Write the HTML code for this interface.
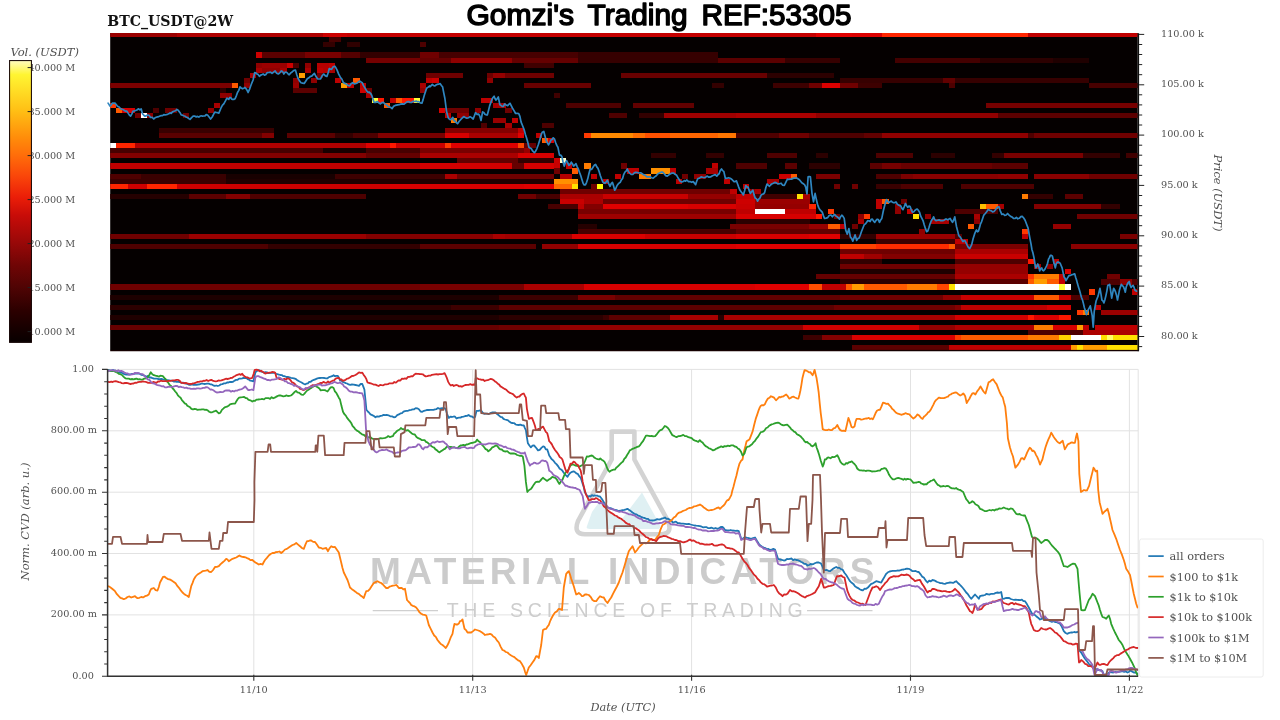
<!DOCTYPE html>
<html lang="en"><head><meta charset="utf-8"><title>Gomzi's Trading REF:53305</title>
<style>html,body{margin:0;padding:0;background:#fff;}body{width:1280px;height:720px;overflow:hidden;}svg{display:block;}text{font-family:'DejaVu Serif','Liberation Serif',serif;fill:#505050;}.ln{fill:none;stroke-width:1.8;stroke-linejoin:round;stroke-linecap:round;}</style></head><body>
<svg width="1280" height="720" viewBox="0 0 1280 720">
<defs>
<linearGradient id="cb" x1="0" y1="0" x2="0" y2="1"><stop offset="0" stop-color="#fffcc0"/><stop offset="0.05" stop-color="#fff532"/><stop offset="0.18" stop-color="#ffbe14"/><stop offset="0.275" stop-color="#ff8c0a"/><stop offset="0.335" stop-color="#ff6e0a"/><stop offset="0.41" stop-color="#fa460a"/><stop offset="0.485" stop-color="#eb1e08"/><stop offset="0.55" stop-color="#c80c08"/><stop offset="0.648" stop-color="#980808"/><stop offset="0.726" stop-color="#700505"/><stop offset="0.804" stop-color="#500404"/><stop offset="0.885" stop-color="#2d0000"/><stop offset="0.96" stop-color="#140000"/><stop offset="1" stop-color="#080000"/></linearGradient>
<clipPath id="hc"><rect x="110.2" y="33.1" width="1027.5" height="316.9"/></clipPath>
<clipPath id="lc"><rect x="107.6" y="367.4" width="1030.6" height="309.9"/></clipPath>
</defs>
<g id="title" style="font-family:'Liberation Sans','DejaVu Sans',sans-serif;font-weight:normal;font-size:30px;fill:#000;stroke:#000;stroke-width:1.5;stroke-linejoin:round;paint-order:stroke">
<text x="466.5" y="25.4" textLength="107.5" lengthAdjust="spacingAndGlyphs" style="font-family:'Liberation Sans','DejaVu Sans',sans-serif;font-weight:normal;font-size:30px;fill:#000;stroke:#000;stroke-width:1.5;stroke-linejoin:round;paint-order:stroke">Gomzi's</text>
<text x="587.6" y="25.4" textLength="100" lengthAdjust="spacingAndGlyphs" style="font-family:'Liberation Sans','DejaVu Sans',sans-serif;font-weight:normal;font-size:30px;fill:#000;stroke:#000;stroke-width:1.5;stroke-linejoin:round;paint-order:stroke">Trading</text>
<text x="701.5" y="25.4" textLength="150" lengthAdjust="spacingAndGlyphs" style="font-family:'Liberation Sans','DejaVu Sans',sans-serif;font-weight:normal;font-size:30px;fill:#000;stroke:#000;stroke-width:1.5;stroke-linejoin:round;paint-order:stroke">REF:53305</text>
</g>
<text id="sym" x="107.3" y="25.6" style="font-weight:bold;font-size:14.14px;fill:#111">BTC_USDT@2W</text>
<g id="heat" clip-path="url(#hc)" shape-rendering="crispEdges">
<rect x="110.2" y="33.1" width="1027.5" height="317.9" fill="#050000"/>
<rect x="110.25" y="32.30" width="66.93" height="5.09" fill="#9a0000"/>
<rect x="177.13" y="32.30" width="145.97" height="5.09" fill="#ad0000"/>
<rect x="323.05" y="32.30" width="24.37" height="5.09" fill="#cd0000"/>
<rect x="347.37" y="32.30" width="468.21" height="5.09" fill="#c40000"/>
<rect x="815.53" y="32.30" width="36.53" height="5.09" fill="#e00000"/>
<rect x="852.01" y="32.30" width="30.45" height="5.09" fill="#db0000"/>
<rect x="882.41" y="32.30" width="145.97" height="5.09" fill="#ff2500"/>
<rect x="1028.33" y="32.30" width="109.49" height="5.09" fill="#bf0000"/>
<rect x="329.13" y="37.34" width="12.21" height="5.09" fill="#470000"/>
<rect x="323.05" y="42.39" width="12.21" height="5.09" fill="#330000"/>
<rect x="347.37" y="42.39" width="12.21" height="5.09" fill="#2f0000"/>
<rect x="420.33" y="42.39" width="6.13" height="5.09" fill="#4e0000"/>
<rect x="256.17" y="52.47" width="6.13" height="5.09" fill="#cd0000"/>
<rect x="262.25" y="52.47" width="42.61" height="5.09" fill="#5b0000"/>
<rect x="304.81" y="52.47" width="36.53" height="5.09" fill="#790000"/>
<rect x="341.29" y="52.47" width="18.29" height="5.09" fill="#540000"/>
<rect x="359.53" y="52.47" width="60.85" height="5.09" fill="#330000"/>
<rect x="420.33" y="52.47" width="18.29" height="5.09" fill="#6f0000"/>
<rect x="438.57" y="52.47" width="139.89" height="5.09" fill="#470000"/>
<rect x="578.41" y="52.47" width="139.89" height="5.09" fill="#360000"/>
<rect x="365.61" y="57.52" width="54.77" height="5.09" fill="#760000"/>
<rect x="420.33" y="57.52" width="30.45" height="5.09" fill="#650000"/>
<rect x="450.73" y="57.52" width="60.85" height="5.09" fill="#900000"/>
<rect x="511.53" y="57.52" width="66.93" height="5.09" fill="#650000"/>
<rect x="578.41" y="57.52" width="139.89" height="5.09" fill="#360000"/>
<rect x="718.25" y="57.52" width="66.93" height="5.09" fill="#5b0000"/>
<rect x="785.13" y="57.52" width="54.77" height="5.09" fill="#360000"/>
<rect x="894.57" y="57.52" width="85.17" height="5.09" fill="#440000"/>
<rect x="979.69" y="57.52" width="73.01" height="5.09" fill="#2c0000"/>
<rect x="1052.65" y="57.52" width="36.53" height="5.09" fill="#1f0000"/>
<rect x="256.17" y="62.56" width="6.13" height="5.09" fill="#900000"/>
<rect x="262.25" y="62.56" width="24.37" height="5.09" fill="#9a0000"/>
<rect x="286.57" y="62.56" width="6.13" height="5.09" fill="#cd0000"/>
<rect x="292.65" y="62.56" width="6.13" height="5.09" fill="#4e0000"/>
<rect x="304.81" y="62.56" width="6.13" height="5.09" fill="#900000"/>
<rect x="316.97" y="62.56" width="12.21" height="5.09" fill="#b60000"/>
<rect x="329.13" y="62.56" width="6.13" height="5.09" fill="#bf0000"/>
<rect x="523.69" y="62.56" width="30.45" height="5.09" fill="#400000"/>
<rect x="256.17" y="67.60" width="6.13" height="5.09" fill="#a80000"/>
<rect x="262.25" y="67.60" width="18.29" height="5.09" fill="#900000"/>
<rect x="280.49" y="67.60" width="6.13" height="5.09" fill="#a80000"/>
<rect x="304.81" y="67.60" width="6.13" height="5.09" fill="#a80000"/>
<rect x="316.97" y="67.60" width="6.13" height="5.09" fill="#bf0000"/>
<rect x="323.05" y="67.60" width="6.13" height="5.09" fill="#b60000"/>
<rect x="329.13" y="67.60" width="6.13" height="5.09" fill="#a80000"/>
<rect x="250.09" y="72.64" width="6.13" height="5.09" fill="#a80000"/>
<rect x="298.73" y="72.64" width="6.13" height="5.09" fill="#ff9d00"/>
<rect x="316.97" y="72.64" width="6.13" height="5.09" fill="#6f0000"/>
<rect x="426.41" y="72.64" width="36.53" height="5.09" fill="#6f0000"/>
<rect x="487.21" y="72.64" width="6.13" height="5.09" fill="#6f0000"/>
<rect x="493.29" y="72.64" width="12.21" height="5.09" fill="#950000"/>
<rect x="505.45" y="72.64" width="48.69" height="5.09" fill="#6f0000"/>
<rect x="620.97" y="72.64" width="145.97" height="5.09" fill="#680000"/>
<rect x="766.89" y="72.64" width="66.93" height="5.09" fill="#2c0000"/>
<rect x="244.01" y="77.69" width="6.13" height="5.09" fill="#6f0000"/>
<rect x="292.65" y="77.69" width="6.13" height="5.09" fill="#900000"/>
<rect x="310.89" y="77.69" width="6.13" height="5.09" fill="#900000"/>
<rect x="335.21" y="77.69" width="6.13" height="5.09" fill="#bf0000"/>
<rect x="353.45" y="77.69" width="6.13" height="5.09" fill="#ff5a00"/>
<rect x="426.41" y="77.69" width="6.13" height="5.09" fill="#bf0000"/>
<rect x="432.49" y="77.69" width="6.13" height="5.09" fill="#cd0000"/>
<rect x="487.21" y="77.69" width="6.13" height="5.09" fill="#900000"/>
<rect x="839.85" y="77.69" width="103.41" height="5.09" fill="#360000"/>
<rect x="943.21" y="77.69" width="12.21" height="5.09" fill="#620000"/>
<rect x="955.37" y="77.69" width="133.81" height="5.09" fill="#360000"/>
<rect x="110.25" y="82.73" width="121.65" height="5.09" fill="#7c0000"/>
<rect x="231.85" y="82.73" width="6.13" height="5.09" fill="#ff5a00"/>
<rect x="244.01" y="82.73" width="6.13" height="5.09" fill="#900000"/>
<rect x="292.65" y="82.73" width="6.13" height="5.09" fill="#9a0000"/>
<rect x="341.29" y="82.73" width="6.13" height="5.09" fill="#ff9d00"/>
<rect x="347.37" y="82.73" width="6.13" height="5.09" fill="#bf0000"/>
<rect x="359.53" y="82.73" width="6.13" height="5.09" fill="#bf0000"/>
<rect x="420.33" y="82.73" width="6.13" height="5.09" fill="#a80000"/>
<rect x="523.69" y="82.73" width="66.93" height="5.09" fill="#680000"/>
<rect x="712.17" y="82.73" width="12.21" height="5.09" fill="#330000"/>
<rect x="772.97" y="82.73" width="36.53" height="5.09" fill="#3d0000"/>
<rect x="809.45" y="82.73" width="12.21" height="5.09" fill="#6f0000"/>
<rect x="821.61" y="82.73" width="18.29" height="5.09" fill="#db0000"/>
<rect x="839.85" y="82.73" width="18.29" height="5.09" fill="#6f0000"/>
<rect x="858.09" y="82.73" width="24.37" height="5.09" fill="#3d0000"/>
<rect x="949.29" y="82.73" width="6.13" height="5.09" fill="#4e0000"/>
<rect x="1089.13" y="82.73" width="48.69" height="5.09" fill="#470000"/>
<rect x="219.69" y="87.77" width="6.13" height="5.09" fill="#2c0000"/>
<rect x="292.65" y="87.77" width="24.37" height="5.09" fill="#5b0000"/>
<rect x="359.53" y="87.77" width="6.13" height="5.09" fill="#cd0000"/>
<rect x="365.61" y="87.77" width="6.13" height="5.09" fill="#6f0000"/>
<rect x="420.33" y="87.77" width="6.13" height="5.09" fill="#900000"/>
<rect x="219.69" y="92.82" width="12.21" height="5.09" fill="#900000"/>
<rect x="365.61" y="92.82" width="6.13" height="5.09" fill="#a80000"/>
<rect x="554.09" y="92.82" width="6.13" height="5.09" fill="#400000"/>
<rect x="371.69" y="97.86" width="6.13" height="5.09" fill="#ffff36"/>
<rect x="377.77" y="97.86" width="6.13" height="5.09" fill="#ff1700"/>
<rect x="389.93" y="97.86" width="6.13" height="5.09" fill="#bf0000"/>
<rect x="396.01" y="97.86" width="6.13" height="5.09" fill="#ff5a00"/>
<rect x="402.09" y="97.86" width="12.21" height="5.09" fill="#ff1700"/>
<rect x="414.25" y="97.86" width="6.13" height="5.09" fill="#ffff36"/>
<rect x="481.13" y="97.86" width="12.21" height="5.09" fill="#bf0000"/>
<rect x="110.25" y="102.90" width="6.13" height="5.09" fill="#ff3900"/>
<rect x="213.61" y="102.90" width="6.13" height="5.09" fill="#a80000"/>
<rect x="383.85" y="102.90" width="6.13" height="5.09" fill="#ff5a00"/>
<rect x="493.29" y="102.90" width="12.21" height="5.09" fill="#a80000"/>
<rect x="566.25" y="102.90" width="54.77" height="5.09" fill="#4e0000"/>
<rect x="633.13" y="102.90" width="60.85" height="5.09" fill="#620000"/>
<rect x="985.77" y="102.90" width="152.05" height="5.09" fill="#760000"/>
<rect x="116.33" y="107.94" width="6.13" height="5.09" fill="#ff5a00"/>
<rect x="122.41" y="107.94" width="12.21" height="5.09" fill="#d70000"/>
<rect x="152.81" y="107.94" width="6.13" height="5.09" fill="#4e0000"/>
<rect x="164.97" y="107.94" width="12.21" height="5.09" fill="#6f0000"/>
<rect x="207.53" y="107.94" width="6.13" height="5.09" fill="#900000"/>
<rect x="438.57" y="107.94" width="6.13" height="5.09" fill="#d70000"/>
<rect x="444.65" y="107.94" width="24.37" height="5.09" fill="#6f0000"/>
<rect x="475.05" y="107.94" width="6.13" height="5.09" fill="#900000"/>
<rect x="505.45" y="107.94" width="6.13" height="5.09" fill="#6f0000"/>
<rect x="134.57" y="112.99" width="6.13" height="5.09" fill="#6f0000"/>
<rect x="140.65" y="112.99" width="6.13" height="5.09" fill="#ffffff"/>
<rect x="146.73" y="112.99" width="6.13" height="5.09" fill="#900000"/>
<rect x="183.21" y="112.99" width="6.13" height="5.09" fill="#6f0000"/>
<rect x="444.65" y="112.99" width="6.13" height="5.09" fill="#bf0000"/>
<rect x="456.81" y="112.99" width="12.21" height="5.09" fill="#900000"/>
<rect x="608.81" y="112.99" width="18.29" height="5.09" fill="#4e0000"/>
<rect x="639.21" y="112.99" width="24.37" height="5.09" fill="#330000"/>
<rect x="663.53" y="112.99" width="73.01" height="5.09" fill="#9f0000"/>
<rect x="736.49" y="112.99" width="79.09" height="5.09" fill="#aa0000"/>
<rect x="815.53" y="112.99" width="182.45" height="5.09" fill="#900000"/>
<rect x="997.93" y="112.99" width="139.89" height="5.09" fill="#5b0000"/>
<rect x="450.73" y="118.03" width="6.13" height="5.09" fill="#ff7c00"/>
<rect x="493.29" y="118.03" width="12.21" height="5.09" fill="#9a0000"/>
<rect x="511.53" y="118.03" width="6.13" height="5.09" fill="#bf0000"/>
<rect x="481.13" y="123.07" width="6.13" height="5.09" fill="#4e0000"/>
<rect x="505.45" y="123.07" width="6.13" height="5.09" fill="#a80000"/>
<rect x="541.93" y="123.07" width="12.21" height="5.09" fill="#4e0000"/>
<rect x="158.89" y="128.12" width="115.57" height="5.09" fill="#390000"/>
<rect x="444.65" y="128.12" width="73.01" height="5.09" fill="#830000"/>
<rect x="517.61" y="128.12" width="6.13" height="5.09" fill="#bf0000"/>
<rect x="158.89" y="133.16" width="103.41" height="5.09" fill="#5b0000"/>
<rect x="262.25" y="133.16" width="12.21" height="5.09" fill="#830000"/>
<rect x="286.57" y="133.16" width="48.69" height="5.09" fill="#5b0000"/>
<rect x="335.21" y="133.16" width="18.29" height="5.09" fill="#330000"/>
<rect x="353.45" y="133.16" width="24.37" height="5.09" fill="#4e0000"/>
<rect x="377.77" y="133.16" width="42.61" height="5.09" fill="#830000"/>
<rect x="420.33" y="133.16" width="24.37" height="5.09" fill="#790000"/>
<rect x="444.65" y="133.16" width="24.37" height="5.09" fill="#d70000"/>
<rect x="468.97" y="133.16" width="48.69" height="5.09" fill="#aa0000"/>
<rect x="517.61" y="133.16" width="6.13" height="5.09" fill="#e00000"/>
<rect x="535.85" y="133.16" width="6.13" height="5.09" fill="#bf0000"/>
<rect x="584.49" y="133.16" width="6.13" height="5.09" fill="#ff3900"/>
<rect x="590.57" y="133.16" width="42.61" height="5.09" fill="#ff8900"/>
<rect x="633.13" y="133.16" width="12.21" height="5.09" fill="#ff6e00"/>
<rect x="645.29" y="133.16" width="24.37" height="5.09" fill="#ff5000"/>
<rect x="669.61" y="133.16" width="48.69" height="5.09" fill="#ff6400"/>
<rect x="718.25" y="133.16" width="18.29" height="5.09" fill="#ff7500"/>
<rect x="736.49" y="133.16" width="42.61" height="5.09" fill="#4e0000"/>
<rect x="779.05" y="133.16" width="30.45" height="5.09" fill="#6f0000"/>
<rect x="809.45" y="133.16" width="54.77" height="5.09" fill="#4e0000"/>
<rect x="864.17" y="133.16" width="18.29" height="5.09" fill="#620000"/>
<rect x="882.41" y="133.16" width="145.97" height="5.09" fill="#900000"/>
<rect x="1028.33" y="133.16" width="6.13" height="5.09" fill="#4e0000"/>
<rect x="1034.41" y="133.16" width="103.41" height="5.09" fill="#6f0000"/>
<rect x="541.93" y="138.20" width="6.13" height="5.09" fill="#ff5a00"/>
<rect x="548.01" y="138.20" width="6.13" height="5.09" fill="#d70000"/>
<rect x="110.25" y="143.25" width="6.13" height="5.09" fill="#ffffff"/>
<rect x="116.33" y="143.25" width="18.29" height="5.09" fill="#ff2500"/>
<rect x="134.57" y="143.25" width="231.09" height="5.09" fill="#b10000"/>
<rect x="365.61" y="143.25" width="24.37" height="5.09" fill="#e00000"/>
<rect x="389.93" y="143.25" width="6.13" height="5.09" fill="#ff1700"/>
<rect x="396.01" y="143.25" width="48.69" height="5.09" fill="#c90000"/>
<rect x="444.65" y="143.25" width="6.13" height="5.09" fill="#ff3900"/>
<rect x="450.73" y="143.25" width="66.93" height="5.09" fill="#de0000"/>
<rect x="517.61" y="143.25" width="6.13" height="5.09" fill="#ff4600"/>
<rect x="523.69" y="143.25" width="12.21" height="5.09" fill="#650000"/>
<rect x="110.25" y="148.29" width="212.85" height="5.09" fill="#470000"/>
<rect x="323.05" y="148.29" width="42.61" height="5.09" fill="#180000"/>
<rect x="365.61" y="148.29" width="54.77" height="5.09" fill="#470000"/>
<rect x="420.33" y="148.29" width="103.41" height="5.09" fill="#790000"/>
<rect x="523.69" y="148.29" width="6.13" height="5.09" fill="#950000"/>
<rect x="110.25" y="153.33" width="255.41" height="5.09" fill="#830000"/>
<rect x="365.61" y="153.33" width="54.77" height="5.09" fill="#650000"/>
<rect x="420.33" y="153.33" width="97.33" height="5.09" fill="#aa0000"/>
<rect x="517.61" y="153.33" width="36.53" height="5.09" fill="#d70000"/>
<rect x="651.37" y="153.33" width="24.37" height="5.09" fill="#330000"/>
<rect x="706.09" y="153.33" width="18.29" height="5.09" fill="#330000"/>
<rect x="766.89" y="153.33" width="30.45" height="5.09" fill="#4e0000"/>
<rect x="815.53" y="153.33" width="12.21" height="5.09" fill="#2c0000"/>
<rect x="876.33" y="153.33" width="36.53" height="5.09" fill="#4e0000"/>
<rect x="931.05" y="153.33" width="24.37" height="5.09" fill="#2c0000"/>
<rect x="991.85" y="153.33" width="12.21" height="5.09" fill="#330000"/>
<rect x="1004.01" y="153.33" width="79.09" height="5.09" fill="#790000"/>
<rect x="1083.05" y="153.33" width="36.53" height="5.09" fill="#330000"/>
<rect x="1125.61" y="153.33" width="12.21" height="5.09" fill="#400000"/>
<rect x="456.81" y="158.38" width="60.85" height="5.09" fill="#620000"/>
<rect x="517.61" y="158.38" width="36.53" height="5.09" fill="#330000"/>
<rect x="554.09" y="158.38" width="6.13" height="5.09" fill="#c90000"/>
<rect x="560.17" y="158.38" width="6.13" height="5.09" fill="#ffffcd"/>
<rect x="110.25" y="163.42" width="310.13" height="5.09" fill="#bf0000"/>
<rect x="420.33" y="163.42" width="91.25" height="5.09" fill="#d20000"/>
<rect x="511.53" y="163.42" width="12.21" height="5.09" fill="#650000"/>
<rect x="523.69" y="163.42" width="30.45" height="5.09" fill="#d70000"/>
<rect x="554.09" y="163.42" width="6.13" height="5.09" fill="#c90000"/>
<rect x="566.25" y="163.42" width="6.13" height="5.09" fill="#bf0000"/>
<rect x="584.49" y="163.42" width="6.13" height="5.09" fill="#ff7c00"/>
<rect x="620.97" y="163.42" width="6.13" height="5.09" fill="#6f0000"/>
<rect x="712.17" y="163.42" width="6.13" height="5.09" fill="#bf0000"/>
<rect x="736.49" y="163.42" width="30.45" height="5.09" fill="#4e0000"/>
<rect x="785.13" y="163.42" width="12.21" height="5.09" fill="#5b0000"/>
<rect x="809.45" y="163.42" width="30.45" height="5.09" fill="#2c0000"/>
<rect x="870.25" y="163.42" width="12.21" height="5.09" fill="#5b0000"/>
<rect x="882.41" y="163.42" width="18.29" height="5.09" fill="#760000"/>
<rect x="900.65" y="163.42" width="91.25" height="5.09" fill="#680000"/>
<rect x="991.85" y="163.42" width="36.53" height="5.09" fill="#5b0000"/>
<rect x="554.09" y="168.46" width="6.13" height="5.09" fill="#6f0000"/>
<rect x="572.33" y="168.46" width="6.13" height="5.09" fill="#ff5a00"/>
<rect x="627.05" y="168.46" width="12.21" height="5.09" fill="#bf0000"/>
<rect x="651.37" y="168.46" width="18.29" height="5.09" fill="#ff9000"/>
<rect x="669.61" y="168.46" width="6.13" height="5.09" fill="#bf0000"/>
<rect x="706.09" y="168.46" width="12.21" height="5.09" fill="#a80000"/>
<rect x="110.25" y="173.50" width="30.45" height="5.09" fill="#4e0000"/>
<rect x="140.65" y="173.50" width="85.17" height="5.09" fill="#390000"/>
<rect x="225.77" y="173.50" width="109.49" height="5.09" fill="#180000"/>
<rect x="335.21" y="173.50" width="85.17" height="5.09" fill="#3d0000"/>
<rect x="420.33" y="173.50" width="24.37" height="5.09" fill="#3d0000"/>
<rect x="444.65" y="173.50" width="12.21" height="5.09" fill="#aa0000"/>
<rect x="456.81" y="173.50" width="97.33" height="5.09" fill="#6f0000"/>
<rect x="560.17" y="173.50" width="12.21" height="5.09" fill="#b40000"/>
<rect x="590.57" y="173.50" width="6.13" height="5.09" fill="#bf0000"/>
<rect x="614.89" y="173.50" width="6.13" height="5.09" fill="#bf0000"/>
<rect x="639.21" y="173.50" width="12.21" height="5.09" fill="#ff7c00"/>
<rect x="681.77" y="173.50" width="6.13" height="5.09" fill="#6f0000"/>
<rect x="693.93" y="173.50" width="12.21" height="5.09" fill="#900000"/>
<rect x="779.05" y="173.50" width="12.21" height="5.09" fill="#cd0000"/>
<rect x="791.21" y="173.50" width="6.13" height="5.09" fill="#ff5a00"/>
<rect x="815.53" y="173.50" width="24.37" height="5.09" fill="#7c0000"/>
<rect x="876.33" y="173.50" width="24.37" height="5.09" fill="#4e0000"/>
<rect x="900.65" y="173.50" width="12.21" height="5.09" fill="#7c0000"/>
<rect x="912.81" y="173.50" width="85.17" height="5.09" fill="#8a0000"/>
<rect x="997.93" y="173.50" width="30.45" height="5.09" fill="#900000"/>
<rect x="1034.41" y="173.50" width="24.37" height="5.09" fill="#8a0000"/>
<rect x="1058.73" y="173.50" width="30.45" height="5.09" fill="#8a0000"/>
<rect x="1089.13" y="173.50" width="48.69" height="5.09" fill="#6f0000"/>
<rect x="110.25" y="178.55" width="115.57" height="5.09" fill="#390000"/>
<rect x="225.77" y="178.55" width="328.37" height="5.09" fill="#1f0000"/>
<rect x="554.09" y="178.55" width="24.37" height="5.09" fill="#ff9000"/>
<rect x="602.73" y="178.55" width="6.13" height="5.09" fill="#bf0000"/>
<rect x="675.69" y="178.55" width="6.13" height="5.09" fill="#bf0000"/>
<rect x="724.33" y="178.55" width="6.13" height="5.09" fill="#bf0000"/>
<rect x="766.89" y="178.55" width="12.21" height="5.09" fill="#a80000"/>
<rect x="110.25" y="183.59" width="18.29" height="5.09" fill="#ff2500"/>
<rect x="128.49" y="183.59" width="18.29" height="5.09" fill="#cd0000"/>
<rect x="146.73" y="183.59" width="30.45" height="5.09" fill="#ff2500"/>
<rect x="177.13" y="183.59" width="212.85" height="5.09" fill="#cd0000"/>
<rect x="389.93" y="183.59" width="133.81" height="5.09" fill="#d90000"/>
<rect x="523.69" y="183.59" width="30.45" height="5.09" fill="#e00000"/>
<rect x="554.09" y="183.59" width="18.29" height="5.09" fill="#ff6800"/>
<rect x="572.33" y="183.59" width="6.13" height="5.09" fill="#ffe000"/>
<rect x="590.57" y="183.59" width="6.13" height="5.09" fill="#6f0000"/>
<rect x="596.65" y="183.59" width="6.13" height="5.09" fill="#ffff04"/>
<rect x="742.57" y="183.59" width="6.13" height="5.09" fill="#bf0000"/>
<rect x="833.77" y="183.59" width="6.13" height="5.09" fill="#6f0000"/>
<rect x="852.01" y="183.59" width="6.13" height="5.09" fill="#6f0000"/>
<rect x="876.33" y="183.59" width="24.37" height="5.09" fill="#390000"/>
<rect x="900.65" y="183.59" width="42.61" height="5.09" fill="#4e0000"/>
<rect x="961.45" y="183.59" width="73.01" height="5.09" fill="#4e0000"/>
<rect x="560.17" y="188.63" width="170.29" height="5.09" fill="#6f0000"/>
<rect x="730.41" y="188.63" width="6.13" height="5.09" fill="#bf0000"/>
<rect x="748.65" y="188.63" width="6.13" height="5.09" fill="#900000"/>
<rect x="754.73" y="188.63" width="6.13" height="5.09" fill="#a80000"/>
<rect x="110.25" y="193.68" width="79.09" height="5.09" fill="#250000"/>
<rect x="189.29" y="193.68" width="36.53" height="5.09" fill="#5b0000"/>
<rect x="225.77" y="193.68" width="24.37" height="5.09" fill="#830000"/>
<rect x="250.09" y="193.68" width="115.57" height="5.09" fill="#4e0000"/>
<rect x="517.61" y="193.68" width="18.29" height="5.09" fill="#6f0000"/>
<rect x="535.85" y="193.68" width="24.37" height="5.09" fill="#470000"/>
<rect x="560.17" y="193.68" width="42.61" height="5.09" fill="#aa0000"/>
<rect x="602.73" y="193.68" width="85.17" height="5.09" fill="#c90000"/>
<rect x="687.85" y="193.68" width="48.69" height="5.09" fill="#950000"/>
<rect x="736.49" y="193.68" width="18.29" height="5.09" fill="#bf0000"/>
<rect x="754.73" y="193.68" width="42.61" height="5.09" fill="#400000"/>
<rect x="797.29" y="193.68" width="6.13" height="5.09" fill="#ffe000"/>
<rect x="803.37" y="193.68" width="6.13" height="5.09" fill="#a80000"/>
<rect x="1022.25" y="193.68" width="6.13" height="5.09" fill="#ff7c00"/>
<rect x="1028.33" y="193.68" width="24.37" height="5.09" fill="#330000"/>
<rect x="1064.81" y="193.68" width="18.29" height="5.09" fill="#5b0000"/>
<rect x="560.17" y="198.72" width="24.37" height="5.09" fill="#c90000"/>
<rect x="584.49" y="198.72" width="18.29" height="5.09" fill="#ad0000"/>
<rect x="602.73" y="198.72" width="133.81" height="5.09" fill="#6f0000"/>
<rect x="736.49" y="198.72" width="18.29" height="5.09" fill="#cd0000"/>
<rect x="754.73" y="198.72" width="54.77" height="5.09" fill="#9a0000"/>
<rect x="876.33" y="198.72" width="6.13" height="5.09" fill="#bf0000"/>
<rect x="882.41" y="198.72" width="6.13" height="5.09" fill="#ff5a00"/>
<rect x="900.65" y="198.72" width="6.13" height="5.09" fill="#6f0000"/>
<rect x="548.01" y="203.76" width="30.45" height="5.09" fill="#470000"/>
<rect x="578.41" y="203.76" width="6.13" height="5.09" fill="#bf0000"/>
<rect x="584.49" y="203.76" width="18.29" height="5.09" fill="#830000"/>
<rect x="602.73" y="203.76" width="85.17" height="5.09" fill="#e00000"/>
<rect x="687.85" y="203.76" width="48.69" height="5.09" fill="#d70000"/>
<rect x="736.49" y="203.76" width="18.29" height="5.09" fill="#c90000"/>
<rect x="754.73" y="203.76" width="54.77" height="5.09" fill="#950000"/>
<rect x="809.45" y="203.76" width="6.13" height="5.09" fill="#ff2500"/>
<rect x="876.33" y="203.76" width="6.13" height="5.09" fill="#bf0000"/>
<rect x="894.57" y="203.76" width="6.13" height="5.09" fill="#900000"/>
<rect x="979.69" y="203.76" width="6.13" height="5.09" fill="#ffbf00"/>
<rect x="985.77" y="203.76" width="12.21" height="5.09" fill="#ff5a00"/>
<rect x="997.93" y="203.76" width="6.13" height="5.09" fill="#a80000"/>
<rect x="1034.41" y="203.76" width="66.93" height="5.09" fill="#830000"/>
<rect x="1101.29" y="203.76" width="18.29" height="5.09" fill="#330000"/>
<rect x="578.41" y="208.81" width="158.13" height="5.09" fill="#790000"/>
<rect x="736.49" y="208.81" width="18.29" height="5.09" fill="#bf0000"/>
<rect x="754.73" y="208.81" width="30.45" height="5.09" fill="#ffffff"/>
<rect x="785.13" y="208.81" width="30.45" height="5.09" fill="#bf0000"/>
<rect x="827.69" y="208.81" width="6.13" height="5.09" fill="#ff3900"/>
<rect x="894.57" y="208.81" width="6.13" height="5.09" fill="#900000"/>
<rect x="906.73" y="208.81" width="6.13" height="5.09" fill="#bf0000"/>
<rect x="955.37" y="208.81" width="42.61" height="5.09" fill="#4e0000"/>
<rect x="578.41" y="213.85" width="158.13" height="5.09" fill="#9f0000"/>
<rect x="736.49" y="213.85" width="79.09" height="5.09" fill="#d70000"/>
<rect x="815.53" y="213.85" width="6.13" height="5.09" fill="#ff1700"/>
<rect x="833.77" y="213.85" width="6.13" height="5.09" fill="#6f0000"/>
<rect x="858.09" y="213.85" width="6.13" height="5.09" fill="#900000"/>
<rect x="864.17" y="213.85" width="6.13" height="5.09" fill="#ff3900"/>
<rect x="912.81" y="213.85" width="6.13" height="5.09" fill="#ffe000"/>
<rect x="924.97" y="213.85" width="6.13" height="5.09" fill="#900000"/>
<rect x="973.61" y="213.85" width="6.13" height="5.09" fill="#a80000"/>
<rect x="1076.97" y="213.85" width="60.85" height="5.09" fill="#6f0000"/>
<rect x="736.49" y="218.89" width="73.01" height="5.09" fill="#2c0000"/>
<rect x="858.09" y="218.89" width="6.13" height="5.09" fill="#a80000"/>
<rect x="931.05" y="218.89" width="18.29" height="5.09" fill="#a80000"/>
<rect x="973.61" y="218.89" width="6.13" height="5.09" fill="#900000"/>
<rect x="578.41" y="223.93" width="18.29" height="5.09" fill="#250000"/>
<rect x="730.41" y="223.93" width="79.09" height="5.09" fill="#790000"/>
<rect x="809.45" y="223.93" width="18.29" height="5.09" fill="#950000"/>
<rect x="827.69" y="223.93" width="12.21" height="5.09" fill="#ff5a00"/>
<rect x="839.85" y="223.93" width="6.13" height="5.09" fill="#bf0000"/>
<rect x="852.01" y="223.93" width="6.13" height="5.09" fill="#6f0000"/>
<rect x="967.53" y="223.93" width="6.13" height="5.09" fill="#ff5a00"/>
<rect x="1052.65" y="223.93" width="18.29" height="5.09" fill="#950000"/>
<rect x="578.41" y="228.98" width="158.13" height="5.09" fill="#470000"/>
<rect x="736.49" y="228.98" width="103.41" height="5.09" fill="#620000"/>
<rect x="918.89" y="228.98" width="6.13" height="5.09" fill="#900000"/>
<rect x="1022.25" y="228.98" width="6.13" height="5.09" fill="#ff3900"/>
<rect x="110.25" y="234.02" width="79.09" height="5.09" fill="#6f0000"/>
<rect x="189.29" y="234.02" width="176.37" height="5.09" fill="#9a0000"/>
<rect x="365.61" y="234.02" width="54.77" height="5.09" fill="#830000"/>
<rect x="420.33" y="234.02" width="73.01" height="5.09" fill="#8a0000"/>
<rect x="493.29" y="234.02" width="12.21" height="5.09" fill="#a80000"/>
<rect x="505.45" y="234.02" width="66.93" height="5.09" fill="#9f0000"/>
<rect x="572.33" y="234.02" width="73.01" height="5.09" fill="#db0000"/>
<rect x="645.29" y="234.02" width="91.25" height="5.09" fill="#c90000"/>
<rect x="736.49" y="234.02" width="73.01" height="5.09" fill="#d70000"/>
<rect x="809.45" y="234.02" width="30.45" height="5.09" fill="#e00000"/>
<rect x="839.85" y="234.02" width="36.53" height="5.09" fill="#330000"/>
<rect x="876.33" y="234.02" width="79.09" height="5.09" fill="#9a0000"/>
<rect x="955.37" y="234.02" width="6.13" height="5.09" fill="#4e0000"/>
<rect x="1022.25" y="234.02" width="6.13" height="5.09" fill="#bf0000"/>
<rect x="1119.53" y="234.02" width="18.29" height="5.09" fill="#790000"/>
<rect x="876.33" y="239.06" width="79.09" height="5.09" fill="#3d0000"/>
<rect x="955.37" y="239.06" width="12.21" height="5.09" fill="#bf0000"/>
<rect x="110.25" y="244.11" width="158.13" height="5.09" fill="#4e0000"/>
<rect x="268.33" y="244.11" width="152.05" height="5.09" fill="#330000"/>
<rect x="420.33" y="244.11" width="115.57" height="5.09" fill="#5b0000"/>
<rect x="541.93" y="244.11" width="36.53" height="5.09" fill="#900000"/>
<rect x="578.41" y="244.11" width="158.13" height="5.09" fill="#d70000"/>
<rect x="736.49" y="244.11" width="103.41" height="5.09" fill="#e00000"/>
<rect x="839.85" y="244.11" width="36.53" height="5.09" fill="#ff4000"/>
<rect x="876.33" y="244.11" width="73.01" height="5.09" fill="#ff2b00"/>
<rect x="949.29" y="244.11" width="6.13" height="5.09" fill="#ff5a00"/>
<rect x="955.37" y="244.11" width="73.01" height="5.09" fill="#790000"/>
<rect x="1070.89" y="244.11" width="66.93" height="5.09" fill="#8a0000"/>
<rect x="839.85" y="249.15" width="115.57" height="5.09" fill="#6f0000"/>
<rect x="955.37" y="249.15" width="73.01" height="5.09" fill="#aa0000"/>
<rect x="839.85" y="254.19" width="24.37" height="5.09" fill="#bf0000"/>
<rect x="864.17" y="254.19" width="18.29" height="5.09" fill="#9f0000"/>
<rect x="882.41" y="254.19" width="73.01" height="5.09" fill="#830000"/>
<rect x="955.37" y="254.19" width="73.01" height="5.09" fill="#c90000"/>
<rect x="839.85" y="259.24" width="42.61" height="5.09" fill="#330000"/>
<rect x="955.37" y="259.24" width="73.01" height="5.09" fill="#4e0000"/>
<rect x="1028.33" y="259.24" width="6.13" height="5.09" fill="#ff1700"/>
<rect x="1052.65" y="259.24" width="6.13" height="5.09" fill="#bf0000"/>
<rect x="839.85" y="264.28" width="115.57" height="5.09" fill="#6f0000"/>
<rect x="955.37" y="264.28" width="73.01" height="5.09" fill="#950000"/>
<rect x="1034.41" y="264.28" width="6.13" height="5.09" fill="#a80000"/>
<rect x="1046.57" y="264.28" width="6.13" height="5.09" fill="#900000"/>
<rect x="839.85" y="269.32" width="115.57" height="5.09" fill="#1f0000"/>
<rect x="955.37" y="269.32" width="73.01" height="5.09" fill="#950000"/>
<rect x="1064.81" y="269.32" width="6.13" height="5.09" fill="#d70000"/>
<rect x="815.53" y="274.36" width="139.89" height="5.09" fill="#650000"/>
<rect x="955.37" y="274.36" width="73.01" height="5.09" fill="#aa0000"/>
<rect x="1028.33" y="274.36" width="6.13" height="5.09" fill="#ff3900"/>
<rect x="1034.41" y="274.36" width="24.37" height="5.09" fill="#ff7c00"/>
<rect x="1058.73" y="274.36" width="6.13" height="5.09" fill="#bf0000"/>
<rect x="1107.37" y="274.36" width="12.21" height="5.09" fill="#6f0000"/>
<rect x="839.85" y="279.41" width="115.57" height="5.09" fill="#2c0000"/>
<rect x="955.37" y="279.41" width="73.01" height="5.09" fill="#5b0000"/>
<rect x="1028.33" y="279.41" width="6.13" height="5.09" fill="#ff5a00"/>
<rect x="1034.41" y="279.41" width="12.21" height="5.09" fill="#ff9d00"/>
<rect x="1046.57" y="279.41" width="12.21" height="5.09" fill="#ff5a00"/>
<rect x="1058.73" y="279.41" width="6.13" height="5.09" fill="#bf0000"/>
<rect x="1101.29" y="279.41" width="18.29" height="5.09" fill="#4e0000"/>
<rect x="1119.53" y="279.41" width="12.21" height="5.09" fill="#900000"/>
<rect x="1131.69" y="279.41" width="6.13" height="5.09" fill="#4e0000"/>
<rect x="110.25" y="284.45" width="310.13" height="5.09" fill="#6f0000"/>
<rect x="420.33" y="284.45" width="103.41" height="5.09" fill="#790000"/>
<rect x="523.69" y="284.45" width="60.85" height="5.09" fill="#aa0000"/>
<rect x="584.49" y="284.45" width="170.29" height="5.09" fill="#d70000"/>
<rect x="754.73" y="284.45" width="54.77" height="5.09" fill="#e00000"/>
<rect x="809.45" y="284.45" width="12.21" height="5.09" fill="#ff4d00"/>
<rect x="821.61" y="284.45" width="24.37" height="5.09" fill="#bf0000"/>
<rect x="845.93" y="284.45" width="6.13" height="5.09" fill="#ff5a00"/>
<rect x="852.01" y="284.45" width="12.21" height="5.09" fill="#ff9d00"/>
<rect x="864.17" y="284.45" width="42.61" height="5.09" fill="#ff5a00"/>
<rect x="906.73" y="284.45" width="30.45" height="5.09" fill="#ff7c00"/>
<rect x="937.13" y="284.45" width="12.21" height="5.09" fill="#ff4600"/>
<rect x="949.29" y="284.45" width="6.13" height="5.09" fill="#ffe000"/>
<rect x="955.37" y="284.45" width="103.41" height="5.09" fill="#ffffff"/>
<rect x="1058.73" y="284.45" width="6.13" height="5.09" fill="#ffff36"/>
<rect x="1064.81" y="284.45" width="6.13" height="5.09" fill="#ffffff"/>
<rect x="1089.13" y="289.49" width="6.13" height="5.09" fill="#ff3900"/>
<rect x="1131.69" y="289.49" width="6.13" height="5.09" fill="#bf0000"/>
<rect x="110.25" y="294.54" width="389.17" height="5.09" fill="#1d0000"/>
<rect x="499.37" y="294.54" width="79.09" height="5.09" fill="#3d0000"/>
<rect x="578.41" y="294.54" width="36.53" height="5.09" fill="#790000"/>
<rect x="614.89" y="294.54" width="225.01" height="5.09" fill="#620000"/>
<rect x="839.85" y="294.54" width="103.41" height="5.09" fill="#6f0000"/>
<rect x="943.21" y="294.54" width="18.29" height="5.09" fill="#950000"/>
<rect x="961.45" y="294.54" width="73.01" height="5.09" fill="#c90000"/>
<rect x="1034.41" y="294.54" width="24.37" height="5.09" fill="#ff5a00"/>
<rect x="1058.73" y="294.54" width="12.21" height="5.09" fill="#cd0000"/>
<rect x="1070.89" y="294.54" width="18.29" height="5.09" fill="#4e0000"/>
<rect x="110.25" y="304.62" width="340.53" height="5.09" fill="#2c0000"/>
<rect x="450.73" y="304.62" width="48.69" height="5.09" fill="#3d0000"/>
<rect x="499.37" y="304.62" width="334.45" height="5.09" fill="#5b0000"/>
<rect x="833.77" y="304.62" width="121.65" height="5.09" fill="#6f0000"/>
<rect x="955.37" y="304.62" width="6.13" height="5.09" fill="#830000"/>
<rect x="961.45" y="304.62" width="85.17" height="5.09" fill="#bf0000"/>
<rect x="1046.57" y="304.62" width="24.37" height="5.09" fill="#d70000"/>
<rect x="1095.21" y="304.62" width="6.13" height="5.09" fill="#bf0000"/>
<rect x="1076.97" y="309.67" width="6.13" height="5.09" fill="#ff3900"/>
<rect x="1083.05" y="309.67" width="6.13" height="5.09" fill="#ff7c00"/>
<rect x="1101.29" y="309.67" width="36.53" height="5.09" fill="#9a0000"/>
<rect x="110.25" y="314.71" width="389.17" height="5.09" fill="#1f0000"/>
<rect x="499.37" y="314.71" width="103.41" height="5.09" fill="#2c0000"/>
<rect x="602.73" y="314.71" width="6.13" height="5.09" fill="#3d0000"/>
<rect x="608.81" y="314.71" width="60.85" height="5.09" fill="#5b0000"/>
<rect x="669.61" y="314.71" width="48.69" height="5.09" fill="#a80000"/>
<rect x="718.25" y="314.71" width="6.13" height="5.09" fill="#250000"/>
<rect x="724.33" y="314.71" width="231.09" height="5.09" fill="#a80000"/>
<rect x="955.37" y="314.71" width="73.01" height="5.09" fill="#d20000"/>
<rect x="1028.33" y="314.71" width="6.13" height="5.09" fill="#ff1700"/>
<rect x="1034.41" y="314.71" width="24.37" height="5.09" fill="#db0000"/>
<rect x="1058.73" y="314.71" width="12.21" height="5.09" fill="#ff1700"/>
<rect x="110.25" y="324.79" width="389.17" height="5.09" fill="#650000"/>
<rect x="499.37" y="324.79" width="30.45" height="5.09" fill="#6f0000"/>
<rect x="529.77" y="324.79" width="30.45" height="5.09" fill="#7c0000"/>
<rect x="560.17" y="324.79" width="243.25" height="5.09" fill="#950000"/>
<rect x="803.37" y="324.79" width="115.57" height="5.09" fill="#d20000"/>
<rect x="918.89" y="324.79" width="36.53" height="5.09" fill="#950000"/>
<rect x="955.37" y="324.79" width="79.09" height="5.09" fill="#b10000"/>
<rect x="1034.41" y="324.79" width="18.29" height="5.09" fill="#ff7c00"/>
<rect x="1052.65" y="324.79" width="24.37" height="5.09" fill="#d70000"/>
<rect x="1076.97" y="324.79" width="6.13" height="5.09" fill="#ff9d00"/>
<rect x="1083.05" y="324.79" width="6.13" height="5.09" fill="#bf0000"/>
<rect x="1095.21" y="324.79" width="42.61" height="5.09" fill="#bf0000"/>
<rect x="1028.33" y="329.84" width="54.77" height="5.09" fill="#4e0000"/>
<rect x="1083.05" y="329.84" width="54.77" height="5.09" fill="#ad0000"/>
<rect x="803.37" y="334.88" width="18.29" height="5.09" fill="#3d0000"/>
<rect x="821.61" y="334.88" width="30.45" height="5.09" fill="#830000"/>
<rect x="852.01" y="334.88" width="103.41" height="5.09" fill="#db0000"/>
<rect x="955.37" y="334.88" width="6.13" height="5.09" fill="#ff3900"/>
<rect x="961.45" y="334.88" width="66.93" height="5.09" fill="#ff5a00"/>
<rect x="1028.33" y="334.88" width="30.45" height="5.09" fill="#ff7c00"/>
<rect x="1058.73" y="334.88" width="12.21" height="5.09" fill="#ffd300"/>
<rect x="1070.89" y="334.88" width="30.45" height="5.09" fill="#ffffff"/>
<rect x="1101.29" y="334.88" width="6.13" height="5.09" fill="#ffe000"/>
<rect x="1107.37" y="334.88" width="6.13" height="5.09" fill="#ffff68"/>
<rect x="1113.45" y="334.88" width="24.37" height="5.09" fill="#ffe000"/>
<rect x="852.01" y="344.97" width="97.33" height="5.09" fill="#5b0000"/>
<rect x="949.29" y="344.97" width="121.65" height="5.09" fill="#bf0000"/>
<rect x="1070.89" y="344.97" width="6.13" height="5.09" fill="#ff9d00"/>
<rect x="1076.97" y="344.97" width="6.13" height="5.09" fill="#ffe000"/>
<rect x="1083.05" y="344.97" width="24.37" height="5.09" fill="#ff9d00"/>
<rect x="1107.37" y="344.97" width="30.45" height="5.09" fill="#ffe000"/>
</g>
<rect x="110.2" y="349.9" width="1028.5" height="1.35" fill="#140000"/>
<rect x="1137.6" y="33.2" width="1.5" height="318" fill="#111"/>
<path id="price" class="ln" d="M108.1 103.1 L109.1 104.6 L110 106.2 L111.2 104.9 L112.5 103.1 L113.8 103 L115 103.1 L116.2 104.5 L117.5 106.2 L119.1 107 L120.6 108.8 L122.2 109.3 L123.8 110 L125.3 111.2 L126.9 111.2 L128.1 113.1 L129.4 115.1 L130.6 116.2 L131.9 113.9 L133.1 111.2 L134.4 111 L135.6 110.5 L136.9 110 L138.3 108.8 L139.8 109.8 L141.2 109 L142.5 113.8 L143.8 115.3 L145 116.2 L146.2 115.9 L147.5 115 L149.1 115.4 L150.6 117.5 L152.2 117.4 L153.8 119 L155 117.8 L156.2 117.3 L157.5 116.9 L158.8 116.6 L160 116 L161.2 115.6 L162.5 115.6 L163.8 114.7 L165 114.8 L166.2 114.6 L167.5 114.3 L168.8 113.8 L170 112.8 L171.2 113.4 L172.5 111.9 L174 111.3 L175.4 110.8 L176.9 109.4 L178.1 110.3 L179.4 111.9 L180.3 113.1 L181.2 115 L182.5 115.2 L183.8 115.8 L185 116.2 L186.2 117.2 L187.5 117.5 L188.8 118.6 L190 119.4 L191.6 117.6 L193.1 116.2 L194.7 116.1 L196.2 116.9 L197.5 116.4 L198.8 117.1 L200 116.2 L201.2 115.8 L202.5 116.2 L203.8 116 L205 115.9 L206.2 114.6 L207.5 115 L209.1 117 L210.6 119 L212.2 117 L213.8 113.8 L215 112.1 L216.2 112.5 L217.5 112.7 L218.8 113.1 L220 110.3 L221.2 107.5 L222.5 105.2 L223.8 103.8 L225.3 101.2 L226.9 98.1 L227.8 98.7 L228.8 99.4 L229.7 97.7 L230.6 97.5 L231.6 98.9 L232.5 99.4 L233.8 99.4 L235 98.8 L236.2 96.1 L237.5 92.5 L238.8 90.4 L240 86.9 L241.2 88 L242.5 88.8 L243.8 88.2 L245 87.5 L246.6 89.4 L248.1 92.5 L249.4 89.7 L250.6 86.2 L251.9 82.8 L253.1 80 L254.7 72.5 L255.9 73 L257.1 74 L258.2 74.6 L259.4 76.4 L260.7 75.1 L262 74.6 L263.3 74 L264.5 75.1 L265.7 74.8 L267.3 72.6 L268.8 72.5 L270.4 72.1 L272 73.3 L273.5 72.2 L275.1 70.9 L276.7 73.2 L278.3 74 L279.8 72.8 L281.4 70.9 L282.6 71.5 L283.8 74 L285.3 72 L286.9 72.5 L288.1 73.8 L289.2 74.8 L290.8 72.9 L292.4 71.7 L294 70.3 L295.5 70.1 L296.7 74.5 L297.9 78 L299.5 80.9 L301 82.7 L302.6 83.1 L304.2 83.5 L305.7 81.2 L307.3 78.8 L308.9 77.8 L310.4 76.4 L311.7 76.1 L313.1 74.6 L314.4 73.3 L315.9 76.3 L317.5 78.8 L319.1 79 L320.6 78.8 L322.2 75.6 L323.8 74 L325.4 75.9 L326.9 76.4 L328.1 73 L329.3 68.5 L330.5 69.2 L331.6 69.3 L333.2 66.8 L334.8 66.2 L335.9 67.8 L337.1 70.1 L338.7 74.1 L340.3 77.2 L341.8 79 L343.4 82.7 L345 83.4 L346.5 84.2 L348.1 85.5 L349.7 85.8 L351.3 83.6 L352.8 82.7 L354.4 83.9 L356 83.5 L357.3 83 L358.6 81.8 L359.9 81.1 L361.1 82.1 L362.2 82.7 L363.4 85.4 L364.6 87.4 L365.8 89.4 L367 91.3 L368.1 92.3 L369.3 92.1 L370.5 93.3 L371.7 95.2 L372.8 98.6 L374 102.3 L375.6 102.4 L377.2 101.5 L378.7 102.7 L380.3 103.9 L381.9 102.6 L383.4 102.3 L385 104 L386.6 104.7 L388.1 106.6 L389.7 107 L390.9 107.6 L392.1 108.6 L393.6 106.3 L395.2 105.4 L396.5 105.1 L397.8 104.8 L399.1 104.7 L400.7 104.1 L402.3 103.9 L403.8 104.2 L405.4 103.1 L407 101.8 L408.6 101.5 L410.1 102.5 L411.7 102.3 L413.3 101.3 L414.8 101.5 L416.1 101.1 L417.5 101.8 L418.8 101.5 L420.3 102.9 L421.9 103.1 L423.1 99.6 L424.3 95.2 L425.4 91.9 L426.6 88.2 L428.2 87.1 L429.7 85.8 L430 86.8 L431.2 85.7 L432.4 84.4 L433.5 85.5 L434.7 86 L435.9 85.1 L437.1 84.4 L438.6 84.2 L440.2 83.6 L441.4 85.5 L442.6 86.8 L443.7 92.7 L444.9 98.5 L446.5 111.1 L448.1 117.4 L449.2 118.9 L450.4 119.7 L451.6 118.8 L452.8 117.4 L453.9 120.4 L455.1 121.3 L456.3 122.7 L457.5 123.7 L459 121.5 L460.6 119.7 L462.2 118 L463.8 116.6 L465.3 117.4 L466.9 118.2 L468.5 117.8 L470 116.6 L471.6 117.6 L473.2 119 L474.3 116 L475.5 112.7 L477.1 114.4 L478.7 114.2 L479.8 116.1 L481 120.5 L482.6 111.9 L483.8 112.5 L484.9 114.2 L486.1 114.8 L487.3 115 L488.5 110.5 L489.7 105.6 L490.8 102.6 L492 99.3 L493 97.5 L494.1 96.2 L495 98.5 L495.9 100.1 L497.1 98.7 L498.3 97 L499.9 104.8 L501 105.4 L502.2 106.4 L503.4 106.4 L504.6 104 L506.1 105 L507.7 105.6 L508.9 104.2 L510.1 103.3 L511.2 105.6 L512.4 108 L514 110.6 L515.6 113.5 L517.1 113.4 L518.7 113.5 L519.9 116.4 L521.1 122.1 L522.6 125.8 L524.2 129.9 L525.4 134.4 L526.5 137.8 L527.7 141.9 L528.9 147.2 L530.1 148 L531.3 148.8 L532.8 151.2 L534.4 152.7 L535.6 151.2 L536.8 148.8 L538.3 144.8 L539.9 139.4 L541.1 135 L542.2 132.3 L543.8 131.5 L545 136 L546.2 140.9 L547.3 142.7 L548.5 144.9 L549.7 142.8 L550.9 140.1 L552.1 139.5 L553.2 137.8 L554.4 138.8 L555.6 142.5 L556.8 145.4 L557.9 147.2 L559.5 155.1 L560.7 155.1 L561.9 156.6 L563 161.7 L564.2 166.1 L565.4 162.6 L566.6 160.6 L567.8 163 L568.9 165.3 L570.1 164.3 L571.3 162.1 L572.5 164 L573.6 166.1 L574.8 165 L576 163.7 L577.2 166.8 L578.4 169.2 L579.5 172.4 L580.7 175.5 L581.9 179.4 L583.1 183.3 L584.2 184.9 L585.4 184.9 L586.6 182.3 L587.8 178.6 L588.9 173.8 L590.1 169.2 L591.7 169.4 L593.3 166.8 L594.4 165.1 L595.6 164.5 L596.8 166.9 L598 168.4 L599.2 171.8 L600.3 175.5 L601.5 178.7 L602.7 181.8 L603.9 182.9 L605 183.3 L606.2 181.9 L607.4 180.2 L608.7 183.6 L610 186.3 L611.2 183.6 L612.4 182.4 L613.5 185.6 L614.7 190.2 L615.9 188.2 L617.1 185.5 L618.6 183.5 L620.2 182.4 L621.4 179.9 L622.6 178.5 L623.7 174.6 L624.9 172.2 L626.1 171.2 L627.3 169 L628.4 171.4 L629.6 173 L631.2 174.5 L632.8 174.5 L634.3 172.9 L635.9 172.2 L637.5 172.6 L639 173 L640.6 172.8 L642.2 173.8 L643.8 174.9 L645.3 175.3 L646.9 176.9 L648.5 176.9 L650 176.8 L651.6 177.7 L653.2 178.1 L654.7 176.9 L656.3 175.8 L657.9 173.8 L659.5 172.9 L661 172.2 L662.6 172 L664.2 173.8 L665.7 175.6 L667.3 176.1 L668.9 174.9 L670.4 173.8 L672 173.1 L673.6 173 L675.1 174.3 L676.7 175.3 L678.3 178.3 L679.9 180.8 L681.4 182 L683 181.6 L684.3 180.6 L685.6 181.1 L686.9 180 L688.5 181.6 L690.1 181.6 L691.6 182.3 L693.2 181.6 L694.4 183.1 L695.6 184.7 L696.7 181.2 L697.9 178.5 L699.5 178.2 L701.1 176.9 L702.6 177.3 L704.2 177.7 L705.8 177 L707.3 176.1 L708.9 177.2 L710.5 176.9 L712 176 L713.6 175.3 L715.2 174.6 L716.8 176.1 L717.9 174.7 L719.1 173.8 L720.3 170.5 L721.5 169 L722.6 170.6 L723.8 171.4 L725.4 178.5 L727 178.2 L728.5 177.7 L730.1 178.2 L731.7 179.2 L732.8 180.4 L734 181.6 L735.2 181.6 L736.4 180.8 L737.6 184 L738.7 187.1 L739.9 190.1 L741.1 191.8 L742.3 193.3 L743.4 194.9 L744.6 190.8 L745.8 185.5 L747 187.1 L748.1 187.1 L749.3 191 L750.5 193.4 L751.7 191.5 L752.9 190.2 L754 194.6 L755.2 198.1 L756.4 198.7 L757.6 201.2 L758.7 199.1 L759.9 198.1 L761.1 195.1 L762.3 194.2 L763.5 193.9 L764.6 192.6 L765.8 187.7 L767 184 L768.2 185.1 L769.3 186.3 L770.5 185 L771.7 184 L773.3 183.2 L774.8 182.4 L776.4 182.9 L778 184 L779.5 183.7 L781.1 183.2 L782.7 185.2 L784.3 185.5 L785.8 182.4 L787.4 179.2 L788.7 179.5 L790 179.1 L791.6 179.2 L793.1 178.3 L794.4 178.2 L795.8 177.7 L797.1 178.3 L798.6 179.2 L800.2 180.7 L801.8 182.8 L803.3 183.8 L804.5 184.6 L805.7 187 L807 194 L808.1 176.8 L809.2 176.5 L810.4 176.8 L812 193.3 L813.5 201.9 L815.1 193.3 L816.3 199.3 L817.5 204.2 L818.6 207.4 L819.8 209.7 L821 210.9 L822.2 212.1 L823.4 215.6 L824.5 218.4 L826.1 218.1 L827.7 217.6 L828.9 215.8 L830 215.2 L831.2 215.2 L832.4 216.8 L833.6 215.3 L834.7 214.5 L835.9 216.1 L837.1 216.8 L838.3 217.7 L839.5 219.2 L840.6 216.7 L841.8 215.2 L843 216.4 L844.2 218.4 L845.7 230.1 L847.3 234.1 L848.9 228.6 L850.4 237.2 L851.6 238.4 L852.8 241.1 L854 237.9 L855.1 234.9 L856.7 240.4 L857.9 238.6 L859.1 238 L860.3 235 L861.4 231.7 L863 227.8 L864.2 224.7 L865.4 223.9 L866.5 222.5 L867.7 220.7 L868.9 220.8 L870.1 221.5 L871.2 219.4 L872.4 219.2 L873.6 221.1 L874.8 222.3 L875.9 220.6 L877.1 219.2 L878.3 219.6 L879.5 222.3 L880.7 219.9 L881.8 218.4 L883.4 210.5 L885 204.2 L886.5 199.5 L887.7 201.3 L888.9 202.7 L890.1 201.7 L891.3 201.1 L892.4 202.3 L893.6 202.7 L894.8 202.7 L896 201.9 L897.1 203.8 L898.3 205 L899.5 205.6 L900.7 205.8 L901.9 208.4 L903 209.7 L904.2 206.9 L905.4 203.5 L906.6 205.6 L907.7 207.4 L908.9 206 L910.1 206.6 L911.3 209.8 L912.4 212.1 L913.6 212 L914.8 210.5 L916 209.6 L917.2 209 L918.3 210.3 L919.5 212.1 L920.7 216.2 L921.9 218.4 L923 220.6 L924.2 224.7 L925.4 228.4 L926.6 231.7 L927.8 231 L928.9 227.8 L930.1 223.8 L931.3 220.7 L932.5 219.1 L933.6 216.8 L934.8 219.7 L936 220.7 L937.6 220.3 L939.1 219.9 L940.7 220.6 L942.3 220.7 L943.8 220.4 L945.4 219.2 L946.6 219.1 L947.8 219.9 L948.9 219.1 L950.1 218.4 L951.3 220.5 L952.5 222.3 L953.7 220 L954.8 216.8 L956.4 226.2 L957.6 230.9 L958.8 235.6 L960 236.8 L961.5 239.1 L962.9 241.7 L963.9 240.7 L964.9 240.7 L966.3 243.4 L967.8 246.5 L968.8 247.9 L969.7 248.5 L970.7 246.6 L971.7 244.6 L973.1 238.8 L974.6 233.9 L975.6 231.5 L976.5 230 L977.5 231.8 L978.5 231 L979.4 228.1 L980.4 224.2 L981.4 222.1 L982.4 219.3 L983.8 215.1 L985.3 213.5 L986.7 211.8 L988.2 209.6 L989.7 210.3 L991.1 210.6 L992.6 211.9 L994 211.5 L995.5 209.8 L996.9 207.6 L997.9 207.1 L998.9 206.7 L1000.3 210.8 L1001.8 214.4 L1003.3 214 L1004.7 215.4 L1006.2 215 L1007.6 213.5 L1009.1 215.1 L1010.6 216.4 L1012 217 L1013.5 218.3 L1014.9 218.5 L1016.4 217.4 L1017.8 218.8 L1019.3 218.3 L1020.8 216.7 L1022.2 216.4 L1023.7 218 L1025.1 220.3 L1026.6 224.3 L1028.1 228.1 L1029 233.5 L1030 238.8 L1031 243.9 L1031.9 249.4 L1032.9 252.8 L1033.9 257.2 L1034.9 263.6 L1035.8 267.9 L1036.8 266.5 L1037.8 264 L1038.8 266.8 L1039.7 270.8 L1040.7 268.7 L1041.7 267.9 L1042.6 270.2 L1043.6 270.8 L1045.1 268.9 L1046.5 266 L1047.5 263.5 L1048.5 259.2 L1049.4 257.6 L1050.4 255.3 L1051.4 255.3 L1052.4 256.2 L1053.8 262.2 L1055.3 267.9 L1056.2 263.9 L1057.2 262.1 L1058.7 262.2 L1060.1 263.1 L1061.1 265.5 L1062.1 267.9 L1063.1 272.6 L1064 276.7 L1065 278.2 L1066 280.6 L1067.4 278.1 L1068.9 275.7 L1070.3 275.4 L1071.8 274.7 L1073.3 274.4 L1074.7 273.8 L1075.7 277.5 L1076.7 280.6 L1077.6 284.1 L1078.6 287.4 L1079.6 290.6 L1080.6 294.2 L1081.5 297.5 L1082.5 300 L1083.5 303.9 L1084.4 307.8 L1085.4 310.8 L1086.4 314.6 L1087.4 311.8 L1088.3 309.7 L1089.3 307.8 L1090.3 305.8 L1091.2 310.6 L1092.2 315.6 L1093.2 327.2 L1094.2 311.7 L1095.1 306.4 L1096.1 301 L1097.1 298.5 L1098.1 296.1 L1099 292.3 L1100 288.3 L1101 294.1 L1101.9 300 L1102.9 300.8 L1103.9 302.9 L1104.9 299.7 L1105.8 296.1 L1106.8 291.3 L1107.8 285.4 L1108.8 285.1 L1109.7 284.4 L1110.7 291.2 L1111.7 298.1 L1112.6 293.4 L1113.6 288.3 L1114.6 289.8 L1115.6 292.2 L1116.5 295.2 L1117.5 300 L1118.5 295.2 L1119.4 290.3 L1120.4 286.9 L1121.4 284.4 L1122.4 285.8 L1123.3 286.4 L1124.3 288.8 L1125.3 292.2 L1126.2 287 L1127.2 284.4 L1128.2 282.5 L1129.2 281.5 L1130.1 285.2 L1131.1 287.4 L1132.1 286.2 L1133.1 285.4 L1134 287.2 L1135 290.3 L1136.6 291.2" stroke="#2f86c0" style="stroke-width:1.7"/>
<path d="M1139 346.6 h3.2 M1139 336.5 h5.2 M1139 326.4 h3.2 M1139 316.4 h3.2 M1139 306.3 h3.2 M1139 296.2 h3.2 M1139 286.1 h5.2 M1139 276.1 h3.2 M1139 266 h3.2 M1139 255.9 h3.2 M1139 245.9 h3.2 M1139 235.8 h5.2 M1139 225.7 h3.2 M1139 215.7 h3.2 M1139 205.6 h3.2 M1139 195.5 h3.2 M1139 185.4 h5.2 M1139 175.4 h3.2 M1139 165.3 h3.2 M1139 155.2 h3.2 M1139 145.2 h3.2 M1139 135.1 h5.2 M1139 125 h3.2 M1139 115 h3.2 M1139 104.9 h3.2 M1139 94.8 h3.2 M1139 84.8 h5.2 M1139 74.7 h3.2 M1139 64.6 h3.2 M1139 54.5 h3.2 M1139 44.5 h3.2 M1139 34.4 h5.2" stroke="#222" stroke-width="1" fill="none"/>
<text x="1161" y="338.8" style="font-size:9.7px">80.00 k</text>
<text x="1161" y="288.4" style="font-size:9.7px">85.00 k</text>
<text x="1161" y="238.1" style="font-size:9.7px">90.00 k</text>
<text x="1161" y="187.8" style="font-size:9.7px">95.00 k</text>
<text x="1161" y="137.4" style="font-size:9.7px">100.00 k</text>
<text x="1161" y="87" style="font-size:9.7px">105.00 k</text>
<text x="1161" y="36.7" style="font-size:9.7px">110.00 k</text>
<text transform="translate(1213.6 193) rotate(90)" text-anchor="middle" style="font-size:11.45px;font-style:italic">Price (USDT)</text>
<rect x="9.6" y="60.6" width="21.8" height="281.6" fill="url(#cb)" stroke="#1a0a0a" stroke-width="1"/>
<text x="10.4" y="55.7" style="font-size:11.5px;font-style:italic">Vol. (USDT)</text>
<text x="28.4" y="71.1" style="font-size:9.7px">40.000 M</text>
<text x="28.4" y="115.1" style="font-size:9.7px">35.000 M</text>
<text x="28.4" y="159.1" style="font-size:9.7px">30.000 M</text>
<text x="28.4" y="203.1" style="font-size:9.7px">25.000 M</text>
<text x="28.4" y="247.1" style="font-size:9.7px">20.000 M</text>
<text x="28.4" y="291.1" style="font-size:9.7px">15.000 M</text>
<text x="28.4" y="335.1" style="font-size:9.7px">10.000 M</text>
<path d="M27.6 67.6 h3.6 M27.6 111.6 h3.6 M27.6 155.6 h3.6 M27.6 199.6 h3.6 M27.6 243.6 h3.6 M27.6 287.6 h3.6 M27.6 331.6 h3.6" stroke="#222" stroke-width="1" fill="none"/>
<rect x="9.6" y="60.6" width="21.8" height="281.6" fill="url(#cb)" stroke="#1a0a0a" stroke-width="1"/>
<path d="M27.6 67.6 h3.6 M27.6 111.6 h3.6 M27.6 155.6 h3.6 M27.6 199.6 h3.6 M27.6 243.6 h3.6 M27.6 287.6 h3.6 M27.6 331.6 h3.6" stroke="#222" stroke-width="1" fill="none"/>
<path d="M107.6 676.3 H1138.2 M107.6 614.9 H1138.2 M107.6 553.5 H1138.2 M107.6 492.2 H1138.2 M107.6 430.8 H1138.2 M107.6 369.4 H1138.2 M253.8 369.4 V676.3 M472.7 369.4 V676.3 M691.6 369.4 V676.3 M910.5 369.4 V676.3 M1129.4 369.4 V676.3 M1138.2 369.4 V676.3" stroke="#e2e2e2" stroke-width="1" fill="none"/>
<g id="wm" opacity="1">
<path d="M611.7 431.6 H634.4 V459.5 L668 521 Q673 534.2 661 534.2 H585 Q573 534.2 578 521 L611.7 459.5 Z" fill="none" stroke="#d3d3d3" stroke-width="4.6" stroke-linejoin="round"/>
<path d="M587 526 L592 512 L600 501 L611 513 L622 519 L642 492.5 L660 525 Q661 529 657 529 H590 Q585.5 529 587 526 Z" fill="#dff0f3"/>
<text x="622.3" y="583.6" text-anchor="middle" textLength="504.5" lengthAdjust="spacing" style="font-family:'Liberation Sans','DejaVu Sans',sans-serif;font-weight:bold;font-size:37px;fill:#cbcbcb">MATERIAL INDICATORS</text>
<text x="624.7" y="617.4" text-anchor="middle" textLength="356" lengthAdjust="spacing" style="font-family:'Liberation Sans','DejaVu Sans',sans-serif;font-size:19.5px;fill:#cdcdcd">THE SCIENCE OF TRADING</text>
<path d="M372.7 610.6 H438 M807 610.6 H872.5" stroke="#cfcfcf" stroke-width="1.4" fill="none"/>
</g>
<g clip-path="url(#lc)">
<path class="ln" d="M108.1 370.2 L109.6 370.3 L111.2 370.8 L112.7 369.9 L114.2 370.6 L115.7 370.6 L117.3 372.1 L118.8 372.4 L120.3 372.6 L121.8 372.8 L123.4 373.6 L124.9 374.4 L126.4 374.6 L127.9 374.5 L129.5 374.5 L131 374.2 L132.5 373.8 L134 373.9 L135.5 373.7 L137.1 373.5 L138.6 373.4 L140.1 373.9 L141.6 374.9 L143.2 375.2 L144.7 375.8 L146.2 376.8 L147.7 375.9 L149.3 377.5 L150.8 377.3 L152.3 378.2 L153.8 378.5 L155.4 378.6 L156.9 378.7 L158.4 379 L159.9 379.1 L161.4 378.8 L163 379.3 L164.5 379.7 L166 380.3 L167.5 380.1 L169.1 380.3 L170.6 380.6 L172.1 380.7 L173.6 381.6 L175.2 381.3 L176.7 381.8 L178.2 381.8 L179.7 382 L181.2 382.8 L182.8 382.6 L184.3 382.8 L185.8 383.6 L187.3 384 L188.9 384.8 L190.4 384.9 L191.9 384.4 L193.4 384.8 L195 384.7 L196.5 384.8 L198 384.5 L199.5 384.4 L201.1 383.7 L202.6 383.6 L204.1 384 L205.6 383.8 L207.1 383.6 L208.7 383.6 L210.2 384.3 L211.7 384.4 L213.2 385.3 L214.8 385.9 L216.3 385.5 L217.8 386 L219.3 385.5 L220.9 384.3 L222.4 384.1 L223.9 383.4 L225.4 383.4 L227 382.4 L228.5 382.5 L230 381.9 L231.5 382 L233 381.8 L234.6 380.6 L236.1 379.9 L237.6 379.8 L239.1 378.6 L240.7 378.6 L242.2 378.3 L243.5 377.8 L244.9 378.2 L246.2 377.9 L247.6 379.1 L249 379.6 L250.3 380.7 L251.8 380.8 L253.4 381.3 L254.4 376.7 L255.4 372.2 L256.9 371.1 L258.4 370.2 L259.8 370.5 L261.1 371.7 L262.5 371.8 L264 372.8 L265.5 372.2 L267.1 372.4 L268.6 373.2 L270.1 372.8 L271.6 372.7 L273.2 372.9 L274.7 372.6 L276 373.9 L277.4 374.2 L278.8 374.6 L280.3 375 L281.8 375.1 L283.3 376.2 L284.8 376.2 L286.4 377 L287.9 376.9 L289.4 377.3 L290.9 377.9 L292.5 378.1 L294 378.3 L295.5 378.8 L297 379.9 L298.6 381 L300.1 381.8 L301.6 382.5 L303.1 383.4 L304.1 384 L305.2 384.4 L306.5 383.6 L307.9 383.3 L309.2 381.9 L310.7 381.8 L312.3 380.5 L313.8 379.9 L315.3 379.3 L316.8 378.7 L318.4 378.2 L319.9 378 L321.4 377.9 L322.9 377.8 L324.5 378 L326 378.4 L327.5 378.3 L329 377.1 L330.5 376.7 L332.1 376.2 L333.6 375.2 L334.9 376.2 L336.3 375.8 L337.7 375.8 L338.8 377.5 L340 380.3 L341.4 380.5 L342.7 381.8 L344.1 382.3 L345.6 383.1 L347.1 383.5 L348.6 384.4 L350.2 384.8 L351.9 384.5 L353.7 384.7 L355.5 385 L357.3 385.4 L359 385.8 L360.7 383.8 L362.3 384 L363.4 386.8 L364.4 389.5 L365.4 399.7 L366.4 409.8 L367.8 411.5 L369.1 412.7 L370.5 414.4 L372.2 415.1 L373.9 416 L375.5 417.3 L377.2 416.3 L378.9 416.6 L380.6 415.9 L382.1 415.6 L383.7 414.8 L385.2 415.2 L386.7 414.8 L388.5 415.3 L390.3 416.3 L392.1 416.4 L393.8 417.3 L395.5 417 L397.2 415.1 L398.9 414.4 L400.4 413.4 L402 413.1 L403.5 411.7 L405 411.2 L406.5 410.9 L408 410.8 L409.6 410.1 L411.1 409.8 L412.6 409.3 L414.1 409.3 L415.7 408.1 L417.2 408.3 L418.9 409.3 L420.6 411.5 L422.3 411.8 L424 410.8 L425.7 410.4 L427.3 409.8 L428.9 410 L430.4 409.9 L431.9 409.8 L433.4 409.8 L435 409.4 L436.5 409.1 L438 408 L439.5 408.8 L440.9 408.4 L442.2 408.2 L443.6 408.3 L444.6 408.2 L445.6 408.8 L447.1 414 L448.7 417.9 L450.4 416.7 L452.1 417 L453.8 416.5 L455.1 416.7 L456.5 418.5 L457.8 417.9 L459.2 417.7 L460.5 417.6 L461.9 416.9 L463.6 416.6 L465.3 416 L467 415.9 L468.6 415 L470.3 416.3 L472 416.5 L473.6 417.7 L475.1 416.9 L476.5 410.8 L478.3 410.9 L480.2 410.4 L481.5 411.1 L482.9 413.1 L484.2 413.8 L485.7 413.6 L487.3 413.7 L488.8 414.1 L490.3 413.2 L492 412.5 L493.7 412.5 L495.4 412.4 L497.1 414 L498.8 415.3 L500.5 416.9 L502 417.1 L503.5 418.9 L505 419.5 L506.6 419.9 L508.1 420.4 L509.6 421.8 L511.1 422.8 L512.7 423 L514.2 423.1 L515.7 424.5 L517.2 424.9 L518.8 425 L520.4 424.7 L522.1 425.3 L523.8 425.4 L524.8 427.8 L525.9 430.1 L526.9 437.3 L527.9 443.3 L529.4 445.5 L530.9 447.3 L532.5 445.7 L534 445.3 L535.3 446.9 L536.7 448.5 L538 450.4 L539.7 449.8 L541.4 447.8 L543.1 446.3 L544.5 446.8 L545.8 449.3 L547.2 449.4 L548.2 452.2 L549.2 455.5 L550.6 457.6 L551.9 459.4 L553.3 460.5 L555 462.8 L556.7 464.4 L558.4 466.6 L559.7 468.8 L561.1 469.5 L562.4 470.7 L563.9 473 L565.5 474.8 L566.5 475.8 L567.5 476.8 L569 474.3 L570.5 472.7 L572.1 471.8 L573.6 471.3 L574.9 472.1 L576.3 473.3 L577.7 473.8 L579.2 476.2 L580.7 477.8 L581.7 480.7 L582.7 483.9 L583.8 487.2 L584.8 492 L586.3 494.4 L587.8 497.1 L589.2 496 L590.5 496.5 L591.9 495.1 L593.2 495.8 L594.6 495.5 L595.9 495.7 L597.3 495.6 L598.6 496.4 L600 496.5 L601.9 499 L603.8 502.2 L605.6 505.7 L607.5 507.5 L609.4 508 L611.2 508.4 L613.1 509.4 L615 510 L616.6 510.2 L618.1 510.8 L619.7 510.7 L621.2 510.5 L622.8 510.2 L624.4 509.9 L625.9 509.4 L627.5 508.8 L629.2 510.1 L630.8 511.1 L632.5 512.5 L634.4 513.8 L636.2 514.3 L638.1 515.6 L640 516.2 L641.6 517.2 L643.1 517.7 L644.7 518 L646.2 518.8 L647.8 518.8 L649.4 520.2 L650.9 520.3 L652.5 520.5 L654.1 520.4 L655.6 519.9 L657.2 519.1 L658.8 519.5 L660.3 519.4 L661.9 518.5 L663.4 518.3 L665 517.5 L666.6 518.9 L668.1 518.7 L669.7 519.8 L671.2 520.5 L672.8 522.7 L674.4 522 L675.9 521.6 L677.5 523 L679.4 523.2 L681.2 523.6 L683.1 523.7 L685 523.8 L686.9 524.2 L688.8 523.8 L690.6 524.5 L692.5 525 L694.4 525.5 L696.2 525.7 L698.1 525.8 L700 526.2 L701.7 526.7 L703.3 527.4 L705 527.2 L706.7 527.2 L708.3 528.2 L710 528 L711.9 527.7 L713.8 528.7 L715.6 528 L717.5 528.8 L719.2 528.1 L720.8 527 L722.5 527 L723.8 528.2 L725 530 L726.9 530.3 L728.8 530.5 L730.6 530 L732.5 530.5 L734.1 530.7 L735.6 530.9 L737.2 530.7 L738.8 531.2 L740 535.1 L741.2 538.8 L742.9 538.6 L744.6 537.4 L746.2 537.5 L747.9 538 L749.6 538.4 L751.2 538.8 L753.1 538 L755 537.5 L756.9 540.8 L758.8 543.8 L760.4 545.5 L762.1 546.7 L763.8 547.5 L765.3 548.1 L766.9 549.2 L768.4 548.9 L770 550 L771.7 549.7 L773.3 548.9 L775 549.5 L776.5 554.2 L778 558.8 L779.9 559.5 L781.8 559.9 L783.8 560.5 L785.3 560.3 L786.9 559 L788.4 559.1 L790 558.8 L791.6 558.5 L793.1 560.1 L794.7 559.4 L796.2 560 L797.8 560.2 L799.4 560.8 L800.9 561.7 L802.5 562.5 L804.2 563.9 L805.8 563.9 L807.5 565.5 L809.1 565 L810.6 564 L812.2 564.3 L813.8 563.8 L815.4 563 L817.1 562.3 L818.8 562.5 L820 563 L821.2 563.8 L822.5 566.7 L823.8 570 L825.3 570.1 L826.9 570 L828.4 570.8 L830 571.2 L831.6 569.9 L833.1 568.8 L834.7 567.7 L836.2 567 L837.8 567.9 L839.4 567.9 L840.9 569.1 L842.5 569.5 L844.4 572.8 L846.2 575 L848.1 578.1 L850 581.2 L851.7 582.8 L853.3 583.9 L855 586.2 L856.6 587.4 L858.1 588.1 L859.7 589.2 L861.2 590 L862.9 590.3 L864.6 588.7 L866.2 588.8 L867.9 587.6 L869.6 585.6 L871.2 583.8 L872.9 583.3 L874.6 582.2 L876.2 581.2 L877.9 581.6 L879.6 582.2 L881.2 582.5 L882.9 579.5 L884.6 576.6 L886.2 573.8 L887.9 572.3 L889.6 571.5 L891.2 571.2 L892.8 570.9 L894.4 570.8 L895.9 570.9 L897.5 570.5 L899.1 570.6 L900.6 570.2 L902.2 569.6 L903.8 569.5 L905.4 569 L907.1 568.7 L908.8 568.8 L910.6 569.7 L912.5 571.2 L914.1 571.1 L915.6 571 L917.2 571.8 L918.8 572 L920.4 574.1 L922.1 576.6 L923.8 577.5 L925.6 580.4 L927.5 582.5 L929.2 580.6 L930.8 581.4 L932.5 580 L934.1 580.3 L935.6 581.1 L937.2 582 L938.8 582.5 L940.3 583.1 L941.9 583.1 L943.4 583.7 L945 583.8 L946.7 583.2 L948.3 582.8 L950 582.5 L951.6 582.7 L953.1 582.9 L954.7 581.9 L956.2 581.2 L957.9 583 L959.6 584.5 L961.2 586.2 L962.9 588 L964.6 590.2 L966.2 592.5 L967.9 594.2 L969.6 596.7 L971.2 598.8 L973.1 596.7 L975 594.5 L976.9 596.5 L978.8 598.8 L980 596.2 L981.7 595.6 L983.3 595.5 L985 595 L986.6 593.8 L988.1 594.4 L989.7 594.5 L991.2 593.8 L992.8 593.9 L994.4 593.6 L995.9 592.8 L997.5 592.5 L999.4 592.8 L1001.2 592 L1002.5 598.8 L1004.2 598.6 L1005.8 598 L1007.5 598 L1009.2 598 L1010.8 599 L1012.5 599.5 L1014.1 599.9 L1015.6 599.6 L1017.2 599.9 L1018.8 600 L1020.3 600.1 L1021.9 599.7 L1023.4 601.1 L1025 601.2 L1026.9 604.1 L1028.8 607.5 L1030.6 611 L1032.5 614.5 L1034.4 614.6 L1036.2 616.2 L1038.1 617.7 L1040 619.5 L1041.7 618.9 L1043.3 618.5 L1045 617.5 L1046.9 619.1 L1048.8 620.5 L1050.3 621.2 L1051.9 621.8 L1053.4 621.2 L1055 622 L1056.7 622.1 L1058.3 623 L1060 623.8 L1061.9 626.8 L1063.8 631.2 L1065.6 633 L1067.5 633.8 L1069.2 632.9 L1070.8 632.5 L1072.5 632.5 L1074.2 632 L1075.8 632.3 L1077.5 632" stroke="#1f77b4"/>
<path class="ln" d="M1079 650 L1080.1 651.4 L1081.2 652.5 L1083.1 655.7 L1085 658.8 L1086.9 661.1 L1088.8 663.8 L1090.4 665.3 L1092.1 666.3 L1093.8 667.5 L1095.6 668.9 L1097.5 670 L1099.2 669.9 L1100.8 670.7 L1102.5 671.2 L1103.8 675 L1105.6 674.6 L1107.5 675 L1108.8 672.5 L1110.3 672 L1111.9 672.3 L1113.4 672.5 L1115 672 L1116.9 672.1 L1118.8 671.8 L1120.6 671.7 L1122.5 671.2 L1124.2 671.9 L1125.8 671.5 L1127.5 672.5 L1128.8 672 L1130 670.5 L1131.9 671.4 L1133.8 672.5 L1135.6 672.4 L1137.5 673.8" stroke="#1f77b4"/>
<path class="ln" d="M107.5 586.2 L109.4 586.6 L111.2 588 L113.1 589.5 L115 591.2 L116.9 594.2 L118.8 596.2 L120.4 597.8 L122.1 598.4 L123.8 599.2 L125.6 598.5 L127.5 597 L129.4 596.4 L131.2 597.5 L133.1 596.8 L135 596.2 L136.2 597.2 L137.5 598.2 L139.4 597.8 L141.2 597 L143.1 597.4 L145 596.2 L146.9 595.6 L148.8 594.5 L150 591.2 L151.2 588.8 L152.5 588.5 L153.8 588 L155.6 590.1 L157.5 590.5 L158.8 587 L160 582.5 L161.5 579.8 L163 577 L164.6 576.7 L166.2 578 L168.1 579.1 L170 579.5 L171.9 580.6 L173.8 582 L175.6 583.3 L177.5 586.2 L179.2 588.1 L180.8 590.4 L182.5 592.5 L184.1 593.9 L185.6 595 L187.2 595.8 L188.8 597 L190 591.6 L191.2 586.2 L192.5 583.1 L193.8 579.5 L195.6 576.5 L197.5 574.5 L199.2 573.4 L200.8 572.4 L202.5 571.2 L204.2 570.9 L205.8 570.7 L207.5 570 L209.4 571.8 L211.2 572 L213.1 570 L215 567 L216.9 566.8 L218.8 566.2 L220.6 564.2 L222.5 562.5 L224.4 560.8 L226.2 558.8 L227.5 559.5 L228.8 561.2 L230.6 560 L232.5 558.8 L234.4 558.2 L236.2 557.5 L237.9 556.4 L239.5 555.5 L240.9 556.4 L242.3 556.8 L243.8 557 L245.4 557.3 L247.1 558.1 L248.8 558.8 L250.4 560.1 L252.1 559.8 L253.8 561.2 L255.4 562.5 L257.1 563.4 L258.8 564.5 L260.6 563.8 L262.5 564.5 L263.8 562 L265 560 L266.9 557.9 L268.8 555.5 L270.6 554 L272.5 553 L274.2 553 L275.8 552.1 L277.5 552 L279.4 551.5 L281.2 553 L283.1 551.5 L285 549.5 L286.9 548.9 L288.8 547.5 L290.6 546.3 L292.5 545 L294.4 544.4 L296.2 543 L298.1 544.6 L300 546.2 L301.9 548 L303.8 548.8 L305.4 544.7 L307 541.2 L308.4 541.2 L309.8 540.5 L311.2 540.5 L313.1 541.9 L315 542 L316.9 544.5 L318.8 547.5 L320.6 547.8 L322.5 548.8 L324.4 548.4 L326.2 548 L328 551.2 L329.6 548.2 L331.2 546.2 L333.1 547.1 L335 547 L336.9 549.8 L338.8 552.5 L340 557.5 L341.2 562.5 L342.5 568 L343.8 572.5 L345.6 576.2 L347.5 580 L348.8 583.8 L350 587.5 L351.9 589.2 L353.8 590.5 L355.4 591.7 L357.1 593.2 L358.8 593.8 L360.4 595.4 L362.1 596.6 L363.8 598 L365 594.4 L366.2 591.2 L368.1 590.8 L370 588.8 L371.9 585.8 L373.8 583 L375.6 582.1 L377.5 581.2 L379.4 582.3 L381.2 583 L382.9 584.5 L384.6 586.4 L386.2 588 L387.9 588 L389.6 586.6 L391.2 586.2 L392.9 585.7 L394.6 585.4 L396.2 585 L397.5 586.2 L398.8 588 L400 588 L401.7 587.9 L403.3 589.4 L405 588.8 L406 594.4 L407 600 L408.4 601.5 L409.8 602.8 L411.2 605 L412.9 605.9 L414.6 606.4 L416.2 607.5 L417.9 609.8 L419.6 612.4 L421.2 613.8 L422.9 614.6 L424.6 614.9 L426.2 615.5 L427.5 620.1 L428.8 625 L430.6 628.6 L432.5 632.5 L434.2 635.5 L435.8 636.9 L437.5 640 L439.2 642.1 L440.8 644 L442.5 645 L444.1 646.4 L445.8 648 L447.2 645.8 L448.8 642.5 L450.6 637.7 L452.5 633.8 L453.5 628.2 L454.5 623.8 L456 624.5 L457.5 624.5 L458.8 623.6 L460 621.2 L461.2 620.8 L462.5 619.5 L463.5 624.2 L464.5 628.8 L466 630.1 L467.5 632.5 L469.4 632.3 L471.2 632.5 L473.1 631.1 L475 629.5 L476.7 630 L478.3 630.5 L480 631.2 L481.7 632.3 L483.3 633.4 L485 635 L486.7 634.5 L488.3 634.3 L490 633.8 L491.7 634.6 L493.3 636.5 L495 637.5 L496.9 640.3 L498.8 642.5 L500.6 646.6 L502.5 650 L504.2 650.6 L505.8 652 L507.5 652.5 L509.2 654.1 L510.8 655.3 L512.5 656.2 L514.4 657.1 L516.2 658.8 L518.1 660.4 L520 661.2 L521.9 664.1 L523.8 667.5 L525 671.6 L526.2 675 L527.5 671.3 L528.8 667.5 L530.6 665.2 L532.5 662.5 L534.4 659.9 L536.2 656.2 L537.5 656.5 L538.8 658 L540 651.4 L541.2 645 L543 630 L544.6 629.1 L546.2 628.8 L547.5 626.6 L548.8 625 L550 621.5 L551.2 618.8 L553.1 615.3 L555 612.5 L556.9 611.4 L558.8 608.8 L560.4 609.1 L562 610 L563.8 587.5 L565 580.5 L566.2 573.8 L567.5 572.3 L568.8 571.2 L570 574.6 L571.2 578.8 L572.5 582.4 L573.8 586.2 L575 590.4 L576.2 594.5 L577.5 593.9 L578.8 593 L580.4 594.2 L582 596.2 L583.5 595.8 L585 594.5 L586.9 594.5 L588.8 595 L590.6 596.8 L592.5 600 L594.4 601.1 L596.2 601.2 L598.1 598.5 L600 596.2 L601.9 597.1 L603.8 597.5 L605.6 600.7 L607.5 603 L609.4 600 L611.2 597.5 L613.1 593.6 L615 590 L616.9 586.5 L618.8 582.5 L620.6 577.3 L622.5 572.5 L624.4 566.2 L626.2 560 L627.5 555.6 L628.8 551.2 L630.6 548.7 L632.5 546.2 L633.8 549.3 L635 552.5 L636.9 550.2 L638.8 547.5 L640.6 545.6 L642.5 543.8 L644.2 542.7 L645.8 543.4 L647.5 542.5 L649.4 540.4 L651.2 538.8 L653.1 539.9 L655 540 L656.9 537.4 L658.8 535 L660.6 529.3 L662.5 525 L664.4 524 L666.2 522.5 L668.1 522 L670 521.2 L671.9 519.9 L673.8 517.5 L675.6 516.4 L677.5 513.8 L679.2 512.6 L680.8 512.1 L682.5 511.2 L684.2 510.5 L685.8 510 L687.5 508.8 L689.2 508 L690.8 507.9 L692.5 507.5 L694.2 506.3 L695.8 506.2 L697.5 505.5 L698.8 505.2 L700 504.5 L701.9 505.7 L703.8 507.5 L705.4 508.5 L707.1 509.9 L708.8 510.5 L710.4 510.1 L712.1 510 L713.8 509.5 L715.4 508.7 L717.1 507.9 L718.8 507.5 L720 508.8 L721.7 507.1 L723.3 505.8 L725 503.8 L726.2 501.6 L727.5 500 L728.3 500.2 L729.8 497.9 L731.3 495.1 L732.3 490.7 L733.4 487 L734.9 481.1 L736.4 475.8 L737.9 469.3 L739.5 463.6 L741 460.9 L742.5 459.5 L743.5 454.1 L744.5 449.4 L745.5 445.8 L746.6 441.2 L748.1 440.4 L749.6 439.2 L751.1 435.4 L752.7 431.1 L754.2 424.7 L755.7 418.9 L757.2 414.6 L758.8 409.8 L759.8 407.4 L760.8 405.7 L762.1 405.1 L763.5 405.4 L764.8 404.3 L766.4 400.9 L767.9 398.6 L769.4 397.8 L770.9 396.2 L772.5 396.9 L774 397.6 L775 399 L776 400.2 L777.5 398.9 L779.1 397 L780.4 397.3 L781.8 396.7 L783.1 396.6 L784.6 395.5 L786.2 394.5 L787.7 396.2 L789.2 398.6 L790.6 398 L791.9 397 L793.3 396.6 L795 397.5 L796.7 398.3 L798.4 398.6 L799.4 395 L800.4 390.5 L801.4 384.8 L802.4 378.3 L803.4 374.2 L804.5 370.2 L806 370.5 L807.5 371.2 L809 372.4 L810.5 372.2 L811.6 374 L812.6 375.2 L813.6 372.9 L814.6 369.8 L815.6 374.2 L816.6 378.3 L817.7 385.4 L818.7 392.5 L819.7 403.1 L820.7 412.8 L821.7 420.4 L822.7 429.1 L824.3 429.9 L825.8 430.1 L827.3 430.2 L828.8 429.5 L830.4 430.1 L831.9 430.1 L833.6 428.3 L835.3 427.8 L837 425.4 L837.3 425 L838.8 428.1 L840.3 430.1 L842 430.9 L843.7 430.6 L845.4 431.1 L846.9 424.8 L848.4 417.9 L850 422 L851.5 427 L853 427.6 L854.5 426.6 L855.5 421.8 L856.6 418.9 L858.1 418.8 L859.6 418.9 L861.1 419.6 L862.7 419.3 L864.2 418.9 L865.7 418.5 L867.2 418.5 L868.8 417.9 L870.1 419 L871.5 418.4 L872.8 419.3 L874.2 416.3 L875.5 413.3 L876.9 410.8 L878.4 409.9 L879.9 409.8 L881.4 406.7 L883 402.7 L884.7 403.2 L886.4 403.8 L888 403.7 L889.4 405.3 L890.8 406.7 L892.1 408.8 L893.5 409.9 L894.8 411.4 L896.2 412.8 L897.9 413.7 L899.6 414.1 L901.2 414.8 L902.6 414.3 L904 414 L905.3 413.2 L906.7 413.7 L908 414 L909.4 414.4 L910.7 415.9 L912.1 417.4 L913.4 418.5 L914.8 417.6 L916.1 416.1 L917.5 414.4 L919.2 415.6 L920.9 417.8 L922.6 418.9 L923.9 416.8 L925.3 415.6 L926.6 414.4 L928 412.4 L929.3 411.8 L930.7 409.8 L932.1 407.1 L933.4 404.6 L934.8 401.6 L936.1 400 L937.5 398.9 L938.8 397.6 L940.5 398 L942.2 398.2 L943.9 398.2 L945.3 397.7 L946.6 397 L948 396.6 L949.3 395 L950.7 394.5 L952 393.5 L953.4 393.1 L954.7 392.7 L956.1 392.5 L957.4 393.3 L958.8 394.6 L960.2 395.5 L961.7 394.7 L963.2 393.5 L964.2 394.5 L965.2 396.2 L966.7 403.1 L968 400.7 L969.3 399 L970.8 395.9 L972.3 393.5 L973.9 393.2 L975.4 394.5 L977.1 391.4 L978.8 389.3 L980.5 386.4 L982 389 L983.5 391.5 L984.5 392.6 L985.5 393.5 L987.1 387.7 L988.6 382.3 L990.1 381.6 L991.6 380.1 L993.1 379.3 L994.9 382 L996.7 384.4 L998.2 388.4 L999.8 392.5 L1001.3 395.4 L1002.8 397.6 L1004 402.4 L1005.2 406.7 L1006.9 423 L1007.9 438.2 L1008.9 442.8 L1009.9 447.3 L1011.4 452.3 L1013 456.5 L1014.2 462.2 L1015.4 467.7 L1016.7 466.1 L1018 464.6 L1019.6 461.9 L1021.1 458.5 L1022.6 458.2 L1024.1 459.5 L1025.7 456.2 L1027.2 452.4 L1028.5 449.8 L1029.8 447.8 L1031 448.7 L1032.3 451 L1033.6 450.7 L1034.9 452.4 L1036.1 455.1 L1037.3 457.1 L1038.7 460.5 L1040 464.6 L1041.2 461.8 L1042.4 459.5 L1043.9 453.2 L1045.5 447.3 L1047 442.9 L1048.5 439.2 L1049.8 436.5 L1051.2 432.7 L1052.4 434.6 L1053.6 436.8 L1055.1 438.9 L1056.6 440.8 L1058.2 442.5 L1059.7 443.3 L1061.2 442 L1062.7 440.8 L1063.8 445.1 L1064.8 449.4 L1066.3 446.9 L1067.8 444.3 L1069.2 443.7 L1070.5 442.9 L1071.9 442.3 L1073.4 442.9 L1074.9 442.9 L1075.9 437.6 L1077 433.5 L1078.4 441.2 L1079.3 473.8 L1080.9 492 L1082.5 490.9 L1084 490 L1085.5 490.5 L1087 490.4 L1088 488.2 L1089.1 485.9 L1090.3 480.7 L1091.5 475.8 L1092.5 471.9 L1093.5 467.7 L1094.5 469.1 L1095.6 471.3 L1097.2 470.7 L1098.2 490 L1099.6 502.2 L1101.1 508.1 L1102.5 513.8 L1103.8 512.4 L1105 511.2 L1106.2 510.3 L1107.5 508.8 L1108.8 513.2 L1110 518.8 L1111.2 524 L1112.5 530 L1114.4 534.4 L1116.2 538.8 L1118.1 544.5 L1120 550 L1121.9 554.6 L1123.8 560 L1125 564.1 L1126.2 568.8 L1128.1 571.6 L1130 575 L1131.2 580.8 L1132.5 587.5 L1133.8 594 L1135 598.8 L1136.2 603.8 L1137.5 607.5" stroke="#ff7f0e"/>
<path class="ln" d="M108.1 371.2 L109.6 370.6 L111.2 371.2 L112.7 370.8 L114.2 371.2 L115.7 372 L117.3 372.6 L118.8 373.8 L120.3 374.2 L122 375 L123.7 376.9 L125.4 378.3 L127.1 378.6 L128.8 378.6 L130.5 379.3 L132 379 L133.5 379.3 L135 379 L136.6 378.7 L138.1 379.3 L139.6 379.1 L141.1 379.6 L142.7 379.3 L144.3 378.7 L146 378.4 L147.7 377.3 L149.3 375 L150.8 372.2 L152.3 374.2 L153.8 375.2 L155.5 375.7 L157.2 376 L158.9 376.7 L160.3 375.7 L161.6 375.8 L163 376.2 L164.3 377.9 L165.7 379.2 L167 381.3 L168.4 383 L169.7 384.9 L171.1 386 L172.4 388.1 L173.8 389.5 L175.2 391.5 L176.5 392.9 L177.9 395.3 L179.2 396.6 L180.6 397.7 L181.9 400.1 L183.3 401.6 L184.6 403.3 L186 403.8 L187.3 405.7 L188.7 406.5 L190.1 407.3 L191.4 408.8 L192.9 409.3 L194.5 409 L196 409.2 L197.5 409.8 L199 409.6 L200.5 409.7 L202.1 409.4 L203.6 409.4 L204.9 409.8 L206.3 409.7 L207.7 410.4 L209.2 411.7 L210.7 412.4 L212.1 412.3 L213.4 411.7 L214.8 411.2 L216.1 410.7 L217.5 412.2 L218.8 413.4 L220.4 412.7 L221.9 409.8 L223.6 408.3 L225.3 407.1 L227 406.7 L228.5 405.8 L230 404.3 L231.7 403.8 L233.4 403.6 L235.1 403.7 L236.4 401.2 L237.8 399 L239.1 397.6 L240.8 397.3 L242.5 397.2 L244.2 397 L245.6 398 L246.9 398.1 L248.3 399.6 L249.6 400.2 L251 400.6 L252.3 401.6 L253.7 400.7 L255.1 400.8 L256.4 399.6 L257.9 399.5 L259.5 399.3 L261 399.2 L262.5 399 L264 399.4 L265.5 398.1 L267.1 398.2 L268.6 398.2 L270.1 398.8 L271.6 397.1 L273.2 398.3 L274.7 397.6 L276 396.9 L277.4 396.1 L278.8 395.5 L280.3 395.4 L281.8 395.8 L283.3 396.3 L284.8 396.2 L286.4 395.4 L287.9 396 L289.4 395.9 L290.9 395.5 L292.6 394.2 L294.3 392.3 L296 390.9 L297.4 392.3 L298.7 392.6 L300.1 393.5 L301.6 394.7 L303.1 394.9 L304.5 393.6 L305.8 392 L307.2 390.5 L308.5 389.7 L309.9 388.7 L311.2 388 L312.6 386.8 L314 386.2 L315.3 385.4 L316.7 386.8 L318 387.4 L319.4 388.4 L320.7 390.4 L322.1 390.2 L323.4 390.1 L324.8 390.1 L326.1 390.8 L327.5 391.5 L329 389.5 L330.5 387.4 L332.1 387.1 L333.6 388 L334.9 391.3 L336.3 392.8 L337.7 395.5 L338.8 397.7 L340 399.6 L341.5 406.1 L343 411.8 L344.4 414.2 L345.8 415.6 L347.1 417.9 L348.5 419.6 L349.8 421.1 L351.2 423 L352.5 425.8 L353.9 427.3 L355.2 429.1 L356.9 430.6 L358.6 431.5 L360.3 433.1 L362 434.3 L363.7 434.8 L365.4 436.2 L367.1 436.7 L368.8 437.5 L370.5 437.2 L371.8 438.4 L373.2 438.8 L374.5 439.2 L376.1 439.4 L377.6 439 L379.1 438.6 L380.6 438.2 L382.1 438.3 L383.7 438.2 L385.2 437.9 L386.7 437.2 L388.2 436.1 L389.8 437.1 L391.3 436.5 L392.8 436.2 L394.2 433.6 L395.5 432.7 L396.9 431.1 L398.2 430.2 L399.6 429.5 L400.9 428 L402.3 429.1 L403.6 429.2 L405 430.1 L406.4 430.6 L407.7 430.1 L409.1 431.1 L410.4 432.2 L411.8 433.5 L413.1 434.1 L414.8 434.5 L416.5 437 L418.2 438.2 L419.9 438.8 L421.6 440 L423.3 440.2 L424.6 440.2 L426 441.8 L427.3 442.3 L428.7 443.7 L430.1 444.6 L431.4 446.3 L432.8 447 L434.1 447.6 L435.5 449.4 L436.8 450.1 L438.2 451.6 L439.5 452.4 L440.9 451.3 L442.2 450.4 L443.6 449.4 L444.9 448.9 L446.3 447.3 L447.7 446.3 L449.3 446.9 L451 447 L452.7 447.3 L454.4 447.2 L456.1 448 L457.8 447.8 L459.2 446.5 L460.5 445.5 L461.9 445.3 L463.4 444.8 L464.9 445.4 L466.4 444.5 L468 444.3 L469.5 443.6 L471 443 L472.5 442.9 L474.1 442.3 L475.6 441.9 L477.1 439.6 L478.6 441.3 L480.2 442.3 L481.5 444.4 L482.9 445.7 L484.2 447.3 L485.6 449.1 L486.9 449.6 L488.3 451.4 L489.6 450.3 L491 449 L492.3 447.3 L493.7 446.8 L495.1 445.9 L496.4 445.3 L497.8 446.7 L499.1 448.4 L500.5 449.4 L501.8 449.5 L503.2 450.9 L504.5 451.4 L505.9 451.5 L507.2 451.1 L508.6 452.4 L510.3 453.5 L512 453.5 L513.7 453.4 L515.4 453.8 L517.1 455 L518.8 455.5 L520.1 455.9 L521.5 455.7 L522.8 456.5 L524.4 465.6 L525.9 481.9 L527.3 492 L529.1 490 L530.9 489 L532.3 487.1 L533.6 484.9 L535 482.9 L536.4 481.8 L537.7 481.7 L539.1 481.9 L540.4 480.6 L541.8 478.9 L543.1 477.8 L544.5 479.1 L545.8 479.9 L547.2 480.9 L548.9 479.5 L550.6 478.6 L552.3 476.8 L553.8 477.3 L555.3 477.8 L556.7 479.3 L558 481.7 L559.4 483.9 L560.9 481.6 L562.4 479.8 L563.9 476.2 L565.5 472.7 L567 471.3 L568.5 469.7 L570 466.2 L571.6 464.6 L572.9 464.5 L574.3 465 L575.6 465.6 L577 465.8 L578.3 466.1 L579.7 466.6 L581 465.7 L582.4 465 L583.8 463.6 L585.3 460.3 L586.8 456.5 L588.5 456.6 L590.2 455.9 L591.9 455.5 L593.2 456.3 L594.6 457.8 L595.9 458.5 L597.5 459.1 L599 459.5 L600.3 458.5 L601.7 459.7 L603 460.5 L604.4 461.6 L605.9 464.6 L607.4 468.7 L608.4 470.5 L609.5 471.7 L610.8 470.8 L612.2 470.1 L613.5 469.7 L614.9 469.7 L616.2 467.8 L617.6 466.6 L618.9 465.3 L620.3 463.9 L621.6 462.6 L623 461.5 L624.3 458.9 L625.7 457.5 L627.1 455 L628.4 453.1 L629.8 450.4 L631.1 449.7 L632.5 448.8 L633.8 448.4 L635.5 447.7 L637.2 446.9 L638.9 446.3 L640.3 444.9 L641.6 442.8 L643 441.2 L644.5 438.4 L646 435.6 L647.4 435.7 L648.7 435.9 L650.1 436.2 L651.8 436 L653.5 436.3 L655.2 436.2 L656.5 434.7 L657.9 432.7 L659.2 431.1 L660.6 430.1 L661.9 429.6 L663.3 428 L664.8 426 L666.3 426.6 L667.9 428 L669.4 430.1 L670.9 432.7 L672.4 435.2 L673.8 435.8 L675.1 436.5 L676.5 437.2 L678.2 436.2 L679.9 436 L681.6 435.6 L683.3 434.9 L684.9 436.1 L686.6 436.2 L688.3 437.1 L690 437.6 L691.7 438.2 L693.4 439.9 L695.1 440.6 L696.8 441.2 L698.3 441.9 L699.8 440.2 L701.2 441.7 L702.6 442.6 L703.9 444.3 L705.6 446.1 L707.3 447 L709 448.4 L710.3 448.7 L711.7 449.6 L713 450.4 L714.4 449.9 L715.8 448.9 L717.1 448.4 L718.5 447.6 L719.8 447.1 L721.2 446.3 L722.9 447.1 L724.6 446.1 L726.2 446.3 L727.9 445.7 L729.6 446.1 L731.3 445.3 L733 445.3 L734.7 446.5 L736.4 446.9 L737.9 448.5 L739.5 449.4 L741 451.7 L742.5 455.5 L743.5 454.6 L744.5 453.4 L745.5 450.3 L746.6 447.3 L747.9 446.6 L749.3 446.4 L750.6 445.3 L752 444.3 L753.3 442.4 L754.7 441.2 L756.2 438.9 L757.7 437.2 L759.3 434.6 L760.8 432.1 L762.1 431.9 L763.5 431.4 L764.8 430.1 L766.2 428 L767.6 427.5 L768.9 426 L770.3 425.1 L771.6 424.4 L773 424 L774.7 423.4 L776.4 422.8 L778 422.6 L779.4 423.1 L780.8 424.2 L782.1 425 L783.8 425.3 L785.5 424.8 L787.2 424.6 L788.5 425.9 L789.9 427.3 L791.2 429.1 L792.6 430.2 L794 431.6 L795.3 432.1 L797 434.2 L798.7 435.1 L800.4 436.2 L801.7 437.7 L803.1 439.1 L804.5 441.2 L805.8 442.3 L807.2 441.9 L808.5 443.3 L809.9 444 L811.2 445.7 L812.6 446.3 L814.1 445.2 L815.6 443.3 L816.6 447.5 L817.7 450.4 L819.2 455 L820.7 460.5 L821.7 463.4 L822.7 466.6 L823.8 463.9 L824.8 459.5 L826.1 459.4 L827.5 457.6 L828.8 457.5 L830.5 458.3 L832.2 457 L833.9 457.1 L835.4 456.6 L837 455.5 L837.3 455.1 L838.8 458 L840.3 461.6 L841.8 463.5 L843.4 464.6 L844.7 464.7 L846.1 463 L847.4 463.6 L848.9 462.3 L850.5 462 L851.8 461.3 L853.2 462.9 L854.5 464 L855.9 465.7 L857.2 468.5 L858.6 469.7 L859.9 470.4 L861.3 470.4 L862.7 470.7 L864.2 470.5 L865.7 471 L867.2 470.7 L868.8 470.7 L870.3 470.9 L871.8 471.5 L873.3 471.3 L874.8 471.3 L876.5 471.1 L878.2 470.7 L879.9 470.7 L881.4 469 L883 468.7 L884.5 468.1 L886 468.7 L887.5 471.2 L889.1 474.8 L890.4 476.7 L891.8 478.5 L893.1 479.4 L894.8 479.3 L896.5 478.3 L898.2 477.8 L899.9 478.4 L901.6 478.9 L903.3 479.8 L904.6 478.6 L906 479.7 L907.3 478.8 L908.9 479.2 L910.4 479.4 L911.9 481 L913.4 482.9 L915.1 482.6 L916.8 482.5 L918.5 481.9 L919.9 482.2 L921.2 483.5 L922.6 483.9 L923.9 484.6 L925.3 484.1 L926.6 484.3 L928 482.7 L929.3 481.9 L930.7 480.9 L932.2 480.5 L933.8 479.4 L935.1 481.2 L936.5 483.2 L937.8 484.9 L939.2 485.5 L940.5 486.5 L941.9 486.3 L943.6 486 L945.3 486.5 L947 485.9 L948.6 486.2 L950.3 487.7 L952 488.4 L953.4 488.3 L954.7 488.7 L956.1 488 L957.4 489.1 L958.8 489.7 L960.2 490 L961.7 491.1 L963.2 492 L964.7 495.7 L966.2 499.1 L967.8 501 L969.3 503.2 L970.8 502.5 L972.3 501.2 L973.9 502.3 L975.4 504.2 L976.9 505 L978.4 506 L980 508.8 L981.7 509.4 L983.3 510.3 L985 511.2 L986.6 511.1 L988.1 510.5 L989.7 510 L991.2 510.5 L992.8 509.8 L994.4 510.5 L995.9 509.4 L997.5 509.5 L999.1 508.4 L1000.6 508.6 L1002.2 508.3 L1003.8 507.5 L1005.4 508.3 L1007.1 508.6 L1008.8 509.5 L1010.6 508.4 L1012.5 508.8 L1014.4 511.2 L1016.2 513.8 L1017.9 514.3 L1019.6 514 L1021.2 515 L1023.1 515.5 L1025 515.5 L1026.9 520.3 L1028.8 525 L1030.4 531 L1032 537 L1033.5 537.8 L1035 537.5 L1036.9 538.5 L1038.8 540 L1040 541.6 L1041.2 543 L1043.1 541.6 L1045 540 L1046.9 539.8 L1048.8 541.2 L1050.6 543.8 L1052.5 546.2 L1054.4 548.2 L1056.2 550 L1058.1 552.1 L1060 555 L1061.9 560.8 L1063.8 566.2 L1065.6 566.4 L1067.5 567 L1069.4 565.7 L1071.2 564.5 L1073.1 563.6 L1075 563.8 L1076.2 566.1 L1077.5 568.8 L1078.5 581 L1079.5 592.5 L1081.2 610 L1083.1 610.3 L1085 610 L1086.9 605 L1088.8 600 L1090.6 597.6 L1092.5 593.8 L1093.8 594.9 L1095 596.2 L1096.2 599.1 L1097.5 602.5 L1098.8 605.7 L1100 610 L1101.2 613.6 L1102.5 617 L1104.4 617.6 L1106.2 618.8 L1107.5 616.9 L1108.8 615.5 L1110 618.8 L1111.2 623.8 L1113.1 628.3 L1115 632.5 L1116.9 636.2 L1118.8 640 L1120.6 642.1 L1122.5 645 L1124.4 649.4 L1126.2 652.5 L1128.1 655.4 L1130 658.8 L1131.9 662.2 L1133.8 666.2 L1135 668.7 L1136.2 672.5 L1137.5 675" stroke="#2ca02c"/>
<path class="ln" d="M108.1 381.9 L109.6 382.2 L111.2 381.7 L112.7 382 L114.2 381.3 L115.7 381.2 L117.3 381.7 L118.8 382.2 L120.3 382.3 L121.8 383.2 L123.4 383.3 L124.9 383 L126.4 382.8 L127.8 383.1 L129.1 383.7 L130.5 384 L132 383.7 L133.5 383.5 L135 382.7 L136.6 382.8 L138.1 382.1 L139.6 381.9 L141.1 381.8 L142.7 381.3 L144.2 381.6 L145.7 381.8 L147.2 382.5 L148.8 382.8 L150.3 382.9 L151.8 382.8 L153.3 381.9 L154.8 382.3 L156.4 382.9 L157.9 381.5 L159.4 381.5 L160.9 380.7 L162.5 381.2 L164 381.2 L165.5 381.2 L167 381.3 L168.6 380.8 L170.1 380.8 L171.6 380.6 L173.1 380.3 L174.8 380.4 L176.5 379.8 L178.2 379.9 L179.7 380.8 L181.2 382.8 L182.8 382.9 L184.3 383.3 L185.8 382.8 L187.3 383.4 L188.7 383.8 L190.1 383.9 L191.4 384 L192.9 383.4 L194.5 383.2 L196 382.7 L197.5 381.9 L199 381.8 L200.5 381.3 L202.1 381.4 L203.6 380.7 L205.1 380.8 L206.6 380 L208.2 381 L209.7 380.3 L211.2 379.8 L212.7 380.6 L214.3 381.1 L215.8 381.3 L217.1 381.1 L218.5 380.5 L219.8 380.7 L221.4 380.4 L222.9 379.8 L224.4 379.4 L225.9 378.7 L227.5 379 L229 378.7 L230.5 378 L232 377.9 L233.6 376.8 L235.1 376 L236.6 375.1 L238.1 374.6 L239.5 374.1 L240.8 374.9 L242.2 373.8 L243.5 375.6 L244.9 376.6 L246.2 377.3 L247.8 377.5 L249.3 378.4 L250.8 378.3 L252.3 377.9 L253.6 374.1 L254.8 369.8 L256.6 369.7 L258.4 370.2 L259.8 371.3 L261.1 370.7 L262.5 371.8 L263.9 372.5 L265.2 373.5 L266.6 373.2 L267.9 372.8 L269.3 372.7 L270.6 372.6 L272.1 372 L273.6 372.2 L275.1 372.6 L276.7 378.3 L278.2 378.4 L279.8 379.1 L281.3 379.4 L282.8 379.9 L284.3 378.7 L285.9 379.5 L287.4 378.3 L288.9 378.7 L290.4 380.1 L292 382.3 L293.6 382.9 L295.3 384.5 L297 386.4 L298.6 387 L300.1 388.9 L301.6 389.2 L303.1 390.1 L304.5 389.6 L305.8 389 L307.2 388.4 L308.5 387.6 L309.9 387.2 L311.2 386 L312.8 385.1 L314.3 385.3 L315.8 385.2 L317.3 384.4 L318.9 383.8 L320.4 382.9 L321.9 383 L323.4 381.9 L325 382.6 L326.5 382.8 L328 381.4 L329.5 382.8 L331.1 381.5 L332.6 380.7 L334.1 380.3 L335.6 378.7 L337.1 378.1 L338.7 377.9 L340 379.3 L341.4 379.5 L342.7 380.8 L344.1 380.3 L345.6 379.8 L347.1 378.6 L348.6 378.3 L350.2 377.3 L351.9 376 L353.7 375.8 L355.5 375 L357.3 373.8 L359 372.4 L360.7 372.8 L362.3 372.6 L363.9 375.2 L365.4 377.3 L366.4 379.2 L367.4 382.3 L369.1 383 L370.8 383.4 L372.5 384 L374 384.7 L375.5 384.6 L377.1 385.4 L378.6 386 L380.1 385 L381.6 385.2 L383.2 385.3 L384.7 384.4 L386.3 384.3 L387.9 384.1 L389.6 383.3 L391.2 383.4 L392.8 383.4 L394.3 382 L395.9 382.7 L397.4 381.3 L398.9 380.3 L400.4 380.5 L402 378.6 L403.5 378.8 L405 378.3 L406.5 378.8 L408 376.9 L409.6 376.9 L411.1 376.2 L412.6 376.3 L414.1 374.8 L415.7 373.7 L417.2 373.8 L418.5 373.8 L419.9 374.2 L421.2 374.2 L422.8 374.3 L424.3 375.6 L425.8 376.4 L427.3 376.2 L428.9 375.7 L430.4 375.7 L431.9 374.8 L433.4 374.6 L435 374.4 L436.5 374.2 L438 374.5 L439.5 374.2 L441.2 374.1 L442.9 373.8 L444.6 373.2 L445.6 375.2 L446.6 377.3 L448.2 381.9 L449.7 384.4 L451 385.5 L452.4 384.8 L453.8 386 L455.1 385.3 L456.5 385 L457.8 385.4 L459.2 386.4 L460.5 386.1 L461.9 386.8 L463.6 385.8 L465.3 385 L467 384.8 L468.6 384.8 L470.3 384.2 L472 384.8 L473.6 384.5 L475.1 384.8 L475.7 378.3 L477.2 378.3 L478.7 379.2 L480.2 379.3 L481.7 379.9 L483.2 379.7 L484.7 381 L486.2 380.3 L487.8 380.2 L489.3 379.5 L490.8 378.9 L492.3 379.3 L493.7 380.2 L495.1 381.5 L496.4 382.3 L497.8 383.7 L499.1 384.6 L500.5 386.4 L502 387.2 L503.5 388.3 L505 389.1 L506.6 390.1 L508.3 391.8 L509.9 392.9 L511.6 393.5 L513.3 394.4 L515 396.3 L516.7 397.6 L518.1 396.7 L519.4 396.6 L520.8 394.9 L522.3 393.9 L523.8 393.5 L524.8 395.7 L525.9 397.6 L526.9 408.8 L527.9 414.1 L528.9 418.9 L530.4 418.2 L532 417.9 L533 420.4 L534 423 L535 426 L536 430.1 L537.4 429.6 L538.7 428.9 L540.1 429.1 L541.6 427.3 L543.1 426.6 L544.5 429.3 L545.8 431.8 L547.2 433.1 L548.2 436.7 L549.2 441.2 L550.6 442.6 L551.9 444.4 L553.3 447.3 L555 450 L556.7 452.1 L558.4 454.5 L559.7 457 L561.1 457.9 L562.4 459.5 L563.9 464.6 L565.5 469.7 L566.5 471.7 L567.5 472.7 L569 468.2 L570.5 463.6 L572.1 463.6 L573.6 461.6 L574.9 462.2 L576.3 464.3 L577.7 464.6 L579.2 467.8 L580.7 470.7 L581.7 475.5 L582.7 481.9 L584.3 488.4 L585.8 494.1 L587.3 497.2 L588.8 500.2 L590.4 499.9 L591.9 499.1 L593.2 499.1 L594.6 499 L595.9 498.1 L597.3 498.5 L598.6 499.9 L600 500.2 L601.9 502.9 L603.8 506.2 L605.4 507.5 L607.1 509.6 L608.8 511.2 L610.3 512.4 L611.9 513.2 L613.4 514.3 L615 515.5 L616.6 516 L618.1 517.2 L619.7 518.1 L621.2 518.8 L622.8 520.1 L624.4 521.3 L625.9 522.9 L627.5 523.8 L629.2 524.2 L630.8 526.1 L632.5 526.2 L634.2 527.8 L635.8 528.2 L637.5 529.5 L639.2 530.6 L640.8 532.3 L642.5 533.8 L644.2 535.2 L645.8 537 L647.5 537.5 L649.2 538.8 L650.8 539.1 L652.5 540 L654.4 540.2 L656.2 541.2 L658.1 538.4 L660 537 L661.7 536.7 L663.3 536 L665 536.2 L666.7 536.4 L668.3 537.4 L670 538 L671.7 538.9 L673.3 539.2 L675 540 L676.7 540.2 L678.3 541.1 L680 541.2 L681.7 541.9 L683.3 542.3 L685 542 L686.7 541.4 L688.3 540.4 L690 539.5 L691.7 540.8 L693.3 540.3 L695 541.2 L696.7 542.4 L698.3 542.6 L700 543.8 L701.7 543.6 L703.3 544.1 L705 544.6 L706.7 544.4 L708.3 544.7 L710 544.5 L711.9 543.8 L713.8 545.3 L715.6 545.7 L717.5 545.5 L719.2 544.9 L720.8 544.5 L722.5 544.5 L724.2 545.3 L725.8 547.3 L727.5 548 L729.1 548.1 L730.6 548.7 L732.2 548.7 L733.8 549.5 L735.4 550.7 L737.1 552.2 L738.8 552.5 L740.6 555.4 L742.5 558.8 L744.2 561.3 L745.8 562.8 L747.5 565 L749.2 568.1 L750.8 570 L752.5 572.5 L754.2 574.9 L755.8 576.3 L757.5 578.8 L759.2 580.2 L760.8 582.4 L762.5 583.8 L764.1 584.2 L765.6 585.3 L767.2 586.7 L768.8 586.2 L770.4 585.7 L772.1 585.5 L773.8 585 L775.6 587.2 L777.5 591.2 L779.2 593.4 L780.8 594.5 L782.5 596.2 L784.2 594.4 L785.8 594.6 L787.5 593.8 L788.8 591.7 L790 590 L791.9 591.3 L793.8 591.2 L795.4 591.9 L797.1 592.7 L798.8 593.8 L800.3 595.1 L801.9 596.1 L803.4 596.7 L805 597.5 L806.7 596.2 L808.3 595.7 L810 595 L811.7 594.2 L813.3 593.4 L815 592.5 L816.9 589.2 L818.8 586.2 L820 582.6 L821.2 578.8 L822.5 583.1 L823.8 587.5 L825.4 587.5 L827.1 586.7 L828.8 586.2 L830.4 585.9 L832.1 585.5 L833.8 585 L835.4 580.2 L837 576.2 L838.4 576.4 L839.8 575.8 L841.2 575.5 L842.9 577 L844.5 577.5 L846 584.7 L847.5 591.2 L849.4 595.6 L851.2 598.8 L852.9 600 L854.6 600.7 L856.2 602 L857.9 602.5 L859.6 603.3 L861.2 603.8 L862.7 603.7 L864.1 604.5 L865.5 605 L867.1 600.8 L868.8 596.2 L870.6 591.3 L872.5 587.5 L874.4 587.1 L876.2 586.2 L878.1 587.2 L880 590 L881.9 587.2 L883.8 585 L885.4 582.8 L887.1 581.3 L888.8 578.8 L890.4 577.4 L892.1 576.8 L893.8 576.2 L895.3 576.5 L896.9 576.4 L898.4 576.4 L900 575.5 L901.6 574.6 L903.1 575 L904.7 575.2 L906.2 574.5 L907.9 574.9 L909.6 575.7 L911.2 578 L913.1 579.2 L915 581.2 L916.7 580.5 L918.3 580.2 L920 580 L921.9 583.6 L923.8 586.2 L925.6 589.5 L927.5 592.5 L929.2 591 L930.8 591 L932.5 588.8 L934.2 589 L935.8 589.6 L937.5 590.5 L939.1 590.7 L940.6 591 L942.2 591.3 L943.8 591.2 L945.3 591.1 L946.9 591.7 L948.4 591.8 L950 592 L951.7 591.5 L953.3 590.5 L955 588.8 L956.9 590.7 L958.8 592.5 L960.6 595.1 L962.5 597.5 L964.4 601 L966.2 605 L968.1 608 L970 611.2 L971.2 611.8 L972.5 613 L973.8 609.6 L975 605 L976.2 606.5 L977.5 609.5 L978.8 609.3 L980 609.5 L981.7 608.8 L983.3 606.4 L985 605 L986.6 604 L988.1 603.8 L989.7 602.7 L991.2 603 L992.8 601.5 L994.4 601.6 L995.9 601.1 L997.5 600.5 L999.4 599.9 L1001.2 599.5 L1002.5 601.8 L1003.8 603 L1005.4 603.5 L1007.1 604.1 L1008.8 604.5 L1010.6 603.2 L1012.5 603 L1014.1 604.4 L1015.6 603.2 L1017.2 604.2 L1018.8 604.5 L1020.3 604.8 L1021.9 605.5 L1023.4 606.2 L1025 606.2 L1026.9 608.8 L1028.8 612.5 L1030 618.7 L1031.2 623.8 L1032.5 626.6 L1033.8 630 L1035.6 630.9 L1037.5 631.2 L1039.4 630.2 L1041.2 628 L1043.1 629 L1045 629.5 L1046.7 629.5 L1048.3 628.6 L1050 628 L1051.7 629.1 L1053.3 630.5 L1055 632.5 L1056.7 633.1 L1058.3 634.9 L1060 636.2 L1061.9 638.6 L1063.8 641.2 L1065.6 641.7 L1067.5 643 L1069.2 643.7 L1070.8 643.6 L1072.5 644.5 L1074.2 644.3 L1075.8 643.7 L1077.5 643.8 L1079 662.5 L1080.1 661.7 L1081.2 660 L1083.1 661.4 L1085 663.8 L1086.7 664.4 L1088.3 666.1 L1090 666.2 L1091.7 666.4 L1093.3 668.3 L1095 668 L1096.2 665.3 L1097.5 662.5 L1098.8 664.4 L1100 665 L1101.9 664.2 L1103.8 663.8 L1105.6 664.6 L1107.5 665 L1109.4 661.9 L1111.2 660 L1113.1 658.3 L1115 656.2 L1116.9 655.2 L1118.8 655 L1120.6 653.6 L1122.5 652.5 L1124.4 651.2 L1126.2 650 L1128.1 649.3 L1130 648 L1131.9 647.3 L1133.8 647 L1135.6 647.8 L1137.5 648" stroke="#d62728"/>
<path class="ln" d="M108.1 371.2 L109.5 370.6 L110.8 370.4 L112.2 370.2 L113.7 370.7 L115.2 370.4 L116.8 371.6 L118.3 370.2 L119.8 371.2 L121.3 370.8 L122.9 371.6 L124.4 372.6 L125.9 373.2 L127.4 373.3 L128.9 374.5 L130.5 374.6 L132 374.3 L133.5 374 L135 372.8 L136.6 373.2 L138.1 373 L139.6 373.5 L141.1 373.9 L142.7 374.2 L144.3 375.6 L146 377.7 L147.7 379.3 L149.4 379.9 L151.1 382.1 L152.8 383.4 L154.3 383.5 L155.9 384.5 L157.4 385.2 L158.9 385.4 L160.4 385.7 L162 386.4 L163.5 386.2 L165 387.4 L166.5 387.3 L168 386.8 L169.6 386.6 L171.1 386.8 L172.6 386.8 L174.1 386.3 L175.7 385.9 L177.2 386 L178.7 387.1 L180.2 386.6 L181.8 387.2 L183.3 387.4 L184.8 388 L186.3 387.6 L187.9 388.4 L189.4 388.4 L190.9 388.9 L192.4 388.9 L193.9 388.6 L195.5 388.8 L197 388.3 L198.5 388.3 L200 388.6 L201.6 388.4 L203.1 387.9 L204.6 387.9 L206.1 387.1 L207.7 387.4 L209 388.4 L210.4 389.6 L211.7 389.5 L213.4 390.3 L215.1 391.6 L216.8 392.5 L218.5 392.4 L220.2 392 L221.9 392.1 L223.4 391.8 L224.9 390.7 L226.4 390.5 L228 390.5 L229.5 390.5 L231 391.7 L232.5 390.9 L234.1 391.5 L235.6 390.6 L237.1 390.7 L238.6 389.8 L240.2 389.5 L241.8 389.1 L243.5 388 L245.2 386.4 L246.8 388.3 L248.3 390.1 L250 390 L251.7 389.5 L253.4 390.1 L254.4 383.6 L255.4 377.3 L256.9 376.2 L258.4 376.2 L259.8 376.8 L261.1 377.3 L262.5 377.9 L264 378.7 L265.5 379 L267.1 380 L268.6 379.9 L270.1 380.5 L271.6 379.7 L273.2 379.6 L274.7 379.3 L276 379.2 L277.4 378.2 L278.8 377.3 L280.3 378 L281.8 379.4 L283.3 379.7 L284.8 381.3 L286.4 381.4 L287.9 383 L289.4 383.2 L290.9 384 L292.5 384.3 L294 385.8 L295.5 385.5 L297 386 L298.6 386.8 L300.1 387.4 L301.6 388.8 L303.1 389.5 L304.5 389.4 L305.8 387.8 L307.2 388.4 L308.5 388 L309.9 386.9 L311.2 386.4 L312.8 386.5 L314.3 385.1 L315.8 385.7 L317.3 384.8 L318.9 384.6 L320.4 384.3 L321.9 385.5 L323.4 385.4 L325 385.4 L326.5 384.9 L328 384.3 L329.5 384 L331.1 383.4 L332.6 383.1 L334.1 381.9 L335.6 382.3 L337.5 383.2 L339.3 382.8 L340 382.3 L341.4 383.6 L342.7 384.3 L344.1 386.4 L345.6 387.3 L347.1 388.5 L348.6 390.4 L350.2 391.5 L351.9 391.7 L353.7 392.3 L355.5 392.2 L357.3 392.5 L359 393 L360.7 393.2 L362.3 393.5 L363.4 396.7 L364.4 400.6 L366 429.1 L367.2 435.2 L368.4 441.2 L370.1 444.9 L371.8 446.9 L373.5 449.4 L375 451.4 L376.6 452.4 L377.9 451.7 L379.3 450.6 L380.6 450.4 L382.1 449.8 L383.7 450.2 L385.2 449.9 L386.7 449.4 L388.5 450.7 L390.3 451.4 L392.1 451.8 L393.8 453.4 L395.5 453 L397.2 452.5 L398.9 452.4 L400.4 452.2 L402 450.9 L403.5 450.5 L405 450.4 L406.4 449.7 L407.7 448.5 L409.1 447.3 L410.6 447.3 L412.1 447.2 L413.6 447 L415.2 446.9 L416.5 446.3 L417.9 444.4 L419.2 444.3 L420.6 445.9 L421.9 448.3 L423.3 449.4 L424.6 447.3 L426 447.2 L427.3 447.3 L428.7 446.2 L430.1 444.5 L431.4 443.3 L432.9 442.1 L434.5 442.6 L436 441.9 L437.5 441.2 L439 442 L440.5 441.9 L442.1 441.5 L443.6 441.7 L445.1 443.3 L446.6 444.3 L448.2 446.8 L449.7 449.4 L451 448.4 L452.4 447.7 L453.8 447.3 L455.1 447.7 L456.5 448 L457.8 448.4 L459.2 448.3 L460.5 448 L461.9 447.3 L463.4 447.2 L464.9 446.9 L466.4 448.1 L468 448.4 L469.5 447.9 L471 447.6 L472.5 448.2 L474.1 447.8 L475.4 445.8 L476.8 445.2 L478.1 444.3 L479.6 444.1 L481.2 443.8 L482.7 444.3 L484.2 444.3 L485.7 444.5 L487.3 443.9 L488.8 443.4 L490.3 443.3 L491.8 443.7 L493.4 443.7 L494.9 443.5 L496.4 443.7 L497.9 444.1 L499.5 445.4 L501 445.5 L502.5 446.3 L504 447.1 L505.5 446.6 L507.1 448 L508.6 448.4 L510.1 448.6 L511.6 449.6 L513.2 449.6 L514.7 450.4 L516.2 451.2 L517.7 451.9 L519.3 452.3 L520.8 453.4 L522.1 453.1 L523.5 453.4 L524.8 452.4 L526.4 457.4 L527.9 461.6 L528.9 463.4 L529.9 465.6 L531.3 464.2 L532.6 463.9 L534 462.6 L535.3 462.9 L536.7 463.7 L538 463.6 L539.7 462.8 L541.4 460.7 L543.1 460.5 L544.5 461.1 L545.8 461 L547.2 462.6 L548.2 466.3 L549.2 470.7 L550.6 471.6 L551.9 472.7 L553.3 474.8 L555 475.7 L556.7 476.6 L558.4 477.8 L559.7 479.6 L561.1 479.9 L562.4 481.9 L563.9 483.8 L565.5 485.9 L566.8 485.7 L568.2 486.7 L569.5 487 L571.1 487.4 L572.6 487.5 L574.1 487.8 L575.6 488 L577 488.9 L578.3 489.3 L579.7 490 L581.2 493.2 L582.7 496.1 L584.2 505.2 L585 508.8 L586.9 506.1 L588.8 502.5 L590.5 502.5 L592.2 501.9 L594 502.2 L595.8 502 L597.5 502 L599.4 503.3 L601.2 502.8 L603.1 503.8 L605 504.5 L606.7 505.8 L608.3 507.6 L610 508.8 L611.9 509.1 L613.8 509.5 L615.6 510.7 L617.5 511.2 L619.4 511.9 L621.2 511.4 L623.1 512.1 L625 512.5 L626.9 513.3 L628.8 514.3 L630.6 514.3 L632.5 515 L634.4 515.3 L636.2 516.8 L638.1 517.9 L640 518.8 L641.6 518.9 L643.1 521.1 L644.7 520.9 L646.2 521.2 L647.8 521.9 L649.4 522.1 L650.9 522.9 L652.5 523.8 L654.4 523.8 L656.2 523.3 L658.1 523.3 L660 523 L661.7 522.9 L663.3 521.9 L665 521.2 L666.9 521.8 L668.8 522.3 L670.6 524.2 L672.5 524.5 L674.4 524.5 L676.2 524.9 L678.1 525.3 L680 525.5 L681.9 525.8 L683.8 525.9 L685.6 527 L687.5 527 L689.4 527.1 L691.2 527.3 L693.1 528 L695 528 L696.9 529 L698.8 529.6 L700.6 529.6 L702.5 530.5 L704.4 530.3 L706.2 530.5 L708.1 531.4 L710 531.2 L711.9 530.9 L713.8 531 L715.6 530.7 L717.5 530.5 L719.2 530.1 L720.8 528.8 L722.5 528.8 L723.8 530.6 L725 532 L726.9 532.2 L728.8 532.4 L730.6 532.7 L732.5 532.5 L734.1 532.3 L735.6 533.7 L737.2 533.3 L738.8 533 L740 535.6 L741.2 540 L742.9 539.2 L744.6 538.7 L746.2 538.8 L747.9 539.5 L749.6 540 L751.2 540 L753.1 539.1 L755 538.8 L756.9 541.9 L758.8 545 L760.4 546.5 L762.1 547.1 L763.8 548.8 L765.3 548.7 L766.9 549.9 L768.4 550.5 L770 551.2 L771.7 550.6 L773.3 550.7 L775 550.8 L776.5 557.6 L778 563.8 L779.9 564.7 L781.8 565 L783.8 565 L785.3 564.9 L786.9 564.4 L788.4 564.6 L790 563.8 L791.6 563.8 L793.1 563.5 L794.7 564.4 L796.2 564.5 L797.8 565 L799.4 565.7 L800.9 565.8 L802.5 567 L804.2 568.8 L805.8 569.1 L807.5 569.5 L809.1 568.6 L810.6 569 L812.2 568.5 L813.8 568 L815.4 568.8 L817.1 570.5 L818.8 572.5 L820 573.4 L821.2 575 L822.5 577.3 L823.8 578.8 L825.4 578.8 L827.1 580.2 L828.8 581.2 L830.3 581.9 L831.9 582.5 L833.4 582.7 L835 583.8 L836.7 584.6 L838.3 586.1 L840 587.5 L841.9 588.5 L843.8 588.8 L845.6 593.7 L847.5 598.8 L849.2 600.2 L850.8 601 L852.5 603 L854.1 603.6 L855.6 604 L857.2 605 L858.8 605.5 L860.3 605.5 L861.9 604.4 L863.4 605.3 L865 604.5 L866.9 604.4 L868.8 604.6 L870.6 604.6 L872.5 605 L874.1 605.2 L875.6 603.8 L877.2 604.7 L878.8 603.8 L880.6 599.8 L882.5 596.2 L883.8 594.4 L885 591.2 L886.7 590.5 L888.3 589.9 L890 589.5 L891.6 589.6 L893.1 589 L894.7 588.1 L896.2 588 L897.8 587.8 L899.4 587 L900.9 586.9 L902.5 586.2 L904.1 586 L905.6 585.7 L907.2 585.5 L908.8 585 L910.4 585.2 L912.1 586.1 L913.8 586.2 L915.4 586.7 L917.1 586.1 L918.8 587 L920.4 588.6 L922.1 589.6 L923.8 591.2 L925.6 595.5 L927.5 597.5 L929.2 597 L930.8 596.8 L932.5 596.2 L934.1 596.7 L935.6 596.7 L937.2 597 L938.8 597.5 L940.3 597 L941.9 596.7 L943.4 595.7 L945 596.2 L946.7 596.9 L948.3 595.9 L950 595.5 L951.6 595.5 L953.1 596.1 L954.7 595.5 L956.2 594.5 L957.9 594.7 L959.6 596.1 L961.2 596.2 L963.1 599.2 L965 601.2 L966.7 602.9 L968.3 603.4 L970 605 L971.7 604.5 L973.3 604.7 L975 603.8 L976.2 606.9 L977.5 610 L978.8 608.7 L980 606.2 L981.7 605.4 L983.3 604.2 L985 603.8 L986.6 603.4 L988.1 603.9 L989.7 602.7 L991.2 602.5 L992.8 602 L994.4 602.2 L995.9 601.4 L997.5 601.2 L999.4 600.5 L1001.2 600 L1002.5 606.2 L1003.8 611.2 L1005.4 610.5 L1007.1 610.2 L1008.8 610 L1010.6 609.6 L1012.5 608.8 L1014.1 609.6 L1015.6 609.7 L1017.2 610 L1018.8 610 L1020.3 609.2 L1021.9 609 L1023.4 608.2 L1025 607.5 L1026.9 609.8 L1028.8 611.2 L1030.6 614.1 L1032.5 615.5 L1034 613.4 L1035.5 611.2 L1036.8 611.2 L1038.2 612.3 L1039.5 612 L1041.2 617 L1043.1 617.6 L1045 616.2 L1046.9 618.7 L1048.8 620 L1050.3 620.4 L1051.9 620.5 L1053.4 620.3 L1055 620.5 L1056.7 621.1 L1058.3 622.3 L1060 622.5 L1061.9 624.6 L1063.8 627.5 L1065.6 627.4 L1067.5 627.5 L1069.2 626.8 L1070.8 626.1 L1072.5 625 L1074.2 624.5 L1075.8 623.4 L1077.5 623" stroke="#9467bd"/>
<path class="ln" d="M1079 650 L1080.8 650.3 L1082.5 651.2 L1083.8 653.9 L1085 656.2 L1086.9 658.7 L1088.8 660 L1090.6 662.2 L1092.5 665 L1093.5 670.4 L1094.5 675 L1096 672 L1097.5 668.8 L1099.4 670.4 L1101.2 670 L1102.5 672.4 L1103.8 675 L1105.4 674.4 L1107.1 674.9 L1108.8 675 L1110 671.2 L1111.6 670.8 L1113.1 671.3 L1114.7 672.3 L1116.2 672.5 L1117.8 672.2 L1119.4 671.3 L1120.9 670.9 L1122.5 670.5 L1124.2 670.7 L1125.8 669.5 L1127.5 669.5 L1128.8 668.4 L1130 668 L1131.9 667.8 L1133.8 668.8 L1135.6 669 L1137.5 670" stroke="#9467bd"/>
<path class="ln" d="M107.5 543.8 L112 543.8 L113 536.8 L120.5 536.8 L122 543.8 L147 543.8 L147.5 535 L148.2 542 L162.5 542 L163.8 533.8 L180.5 533.8 L182 540.8 L208.8 540.8 L209.5 532.5 L210.5 540.8 L211.5 548.8 L218.8 548.8 L220 540.8 L222.5 540.8 L223.2 533 L227 533 L228 522 L253.8 522 L254.5 500 L254.4 481.9 L255.4 451.8 L267.6 451.8 L268.6 444.3 L270.2 444.3 L271 451.8 L315.3 451.8 L315.7 445.3 L316.9 445.3 L317.3 451.8 L318.4 435.6 L323.8 435.6 L325.1 455.1 L340.1 455.1 L340 455.1 L343.7 455.1 L344.5 442.9 L365.4 442.9 L366.4 431.1 L369.5 431.1 L370.5 440.2 L371.5 449.4 L373.5 449.4 L374.1 438.8 L378.6 438.8 L379.6 447.3 L393.8 447.3 L394.8 456.5 L399.9 456.5 L400.9 434.1 L404.6 432.1 L405.4 425.4 L425.3 425.4 L426.3 417.9 L439.5 417.9 L440.5 409.8 L443.6 409.8 L444 402.2 L446 402.2 L446.6 410.8 L447.7 434.1 L448.7 427 L456.2 427 L457.4 436.2 L474.1 436.2 L475.1 396.6 L475.7 370.2 L476.5 394.5 L480.2 394.5 L481.2 413.2 L488.3 413.8 L494.4 413.2 L518.8 413.2 L519.8 404.3 L521.2 404.3 L522.8 419.9 L526.9 420.9 L527.9 436.2 L532 436.2 L533 430.1 L540.1 430.1 L541.1 405.7 L545.2 405.7 L546.2 413.2 L558.4 413.2 L559.4 419.9 L565.1 419.9 L565.9 429.1 L569.5 429.1 L570.5 457.5 L582.7 457.5 L583.8 473.8 L584.8 465.2 L591.9 465.2 L592.9 479.8 L595.9 479.8 L596.3 492 L600 492 L601.3 491 L602.3 482.9 L605.4 482.9 L606.4 502.2 L606.2 502.5 L607.5 533.8 L613.8 533.8 L614.5 526.2 L633.8 526.2 L634.5 535 L638.8 535 L640 543 L680 543 L681.2 553.8 L720 553.8 L720 553.8 L743.8 553.8 L745 532.5 L747 507 L753.8 507 L755 500 L755.5 499 L759 499 L759.5 510 L761.2 532.5 L762.5 523.8 L770 523.8 L771.2 532.5 L788.8 532.5 L790 508.8 L798.8 508.8 L800 500 L800.5 496.5 L806 496.5 L807.5 541.2 L808.8 523.8 L811.2 523.8 L812.5 500 L813 474.8 L820 474.8 L821 500 L822 532.5 L823.8 572.5 L825 533 L840 533 L841.2 518.8 L847 518.8 L848 537 L877.5 537 L878.8 528 L885 528 L885.5 521.2 L886.5 547.5 L887.5 540 L907 540 L908.2 518 L923.2 518 L924.5 535 L926.2 546.2 L948.8 546.2 L949.5 537 L955 537 L956.2 557 L962.5 557 L963.8 543 L980 543 L980 543 L1012 543 L1013 550.8 L1031.2 550.8 L1032 557 L1033 538 L1035.5 538 L1036.5 572.5 L1038.8 595 L1040 610 L1042.5 611.2 L1043.8 620 L1063.8 620 L1065 609.2 L1078 609.2 L1079 650 L1085 650 L1086.2 641.2 L1092 641.2 L1093 626.2 L1094 626.2 L1095 675 L1106.2 675 L1107.5 669.5 L1137.5 669.5" stroke="#8c564b"/>
</g>
<path d="M107.6 368.9 V676.3 H1138.2" stroke="#333" stroke-width="1.5" fill="none"/>
<path d="M107.6 676.3 h-5.6 M107.6 664 h-3.4 M107.6 651.7 h-3.4 M107.6 639.5 h-3.4 M107.6 627.2 h-3.4 M107.6 614.9 h-5.6 M107.6 602.6 h-3.4 M107.6 590.4 h-3.4 M107.6 578.1 h-3.4 M107.6 565.8 h-3.4 M107.6 553.5 h-5.6 M107.6 541.3 h-3.4 M107.6 529 h-3.4 M107.6 516.7 h-3.4 M107.6 504.4 h-3.4 M107.6 492.2 h-5.6 M107.6 479.9 h-3.4 M107.6 467.6 h-3.4 M107.6 455.3 h-3.4 M107.6 443.1 h-3.4 M107.6 430.8 h-5.6 M107.6 418.5 h-3.4 M107.6 406.2 h-3.4 M107.6 394 h-3.4 M107.6 381.7 h-3.4 M107.6 369.4 h-5.6 M253.8 674.8 v6 M472.7 674.8 v6 M691.6 674.8 v6 M910.5 674.8 v6 M1129.4 674.8 v6" stroke="#333" stroke-width="1.1" fill="none"/>
<text x="97" y="678.5" text-anchor="end" xml:space="preserve" style="font-size:9.7px;white-space:pre">0.00 </text>
<text x="97" y="617.1" text-anchor="end" xml:space="preserve" style="font-size:9.7px;white-space:pre">200.00 m</text>
<text x="97" y="555.7" text-anchor="end" xml:space="preserve" style="font-size:9.7px;white-space:pre">400.00 m</text>
<text x="97" y="494.4" text-anchor="end" xml:space="preserve" style="font-size:9.7px;white-space:pre">600.00 m</text>
<text x="97" y="433" text-anchor="end" xml:space="preserve" style="font-size:9.7px;white-space:pre">800.00 m</text>
<text x="97" y="371.6" text-anchor="end" xml:space="preserve" style="font-size:9.7px;white-space:pre">1.00 </text>
<text x="253.8" y="692.6" text-anchor="middle" style="font-size:9.7px">11/10</text>
<text x="472.7" y="692.6" text-anchor="middle" style="font-size:9.7px">11/13</text>
<text x="691.6" y="692.6" text-anchor="middle" style="font-size:9.7px">11/16</text>
<text x="910.5" y="692.6" text-anchor="middle" style="font-size:9.7px">11/19</text>
<text x="1129.4" y="692.6" text-anchor="middle" style="font-size:9.7px">11/22</text>
<text x="623" y="711" text-anchor="middle" style="font-size:11.3px;font-style:italic">Date (UTC)</text>
<text transform="translate(28.7 521.5) rotate(-90)" text-anchor="middle" style="font-size:11.5px;font-style:italic">Norm. CVD (arb. u.)</text>
<rect x="1139.6" y="539" width="123.6" height="138" rx="2" fill="#fff" fill-opacity="0.8" stroke="#ececec" stroke-width="1"/>
<path d="M1148.3 556.1 h15.4" stroke="#1f77b4" stroke-width="1.7" fill="none"/>
<text x="1169.6" y="560.2" style="font-size:11.3px">all orders</text>
<path d="M1148.3 576.5 h15.4" stroke="#ff7f0e" stroke-width="1.7" fill="none"/>
<text x="1169.6" y="580.6" style="font-size:11.3px">$100 to $1k</text>
<path d="M1148.3 596.8 h15.4" stroke="#2ca02c" stroke-width="1.7" fill="none"/>
<text x="1169.6" y="600.9" style="font-size:11.3px">$1k to $10k</text>
<path d="M1148.3 617.1 h15.4" stroke="#d62728" stroke-width="1.7" fill="none"/>
<text x="1169.6" y="621.2" style="font-size:11.3px">$10k to $100k</text>
<path d="M1148.3 637.5 h15.4" stroke="#9467bd" stroke-width="1.7" fill="none"/>
<text x="1169.6" y="641.6" style="font-size:11.3px">$100k to $1M</text>
<path d="M1148.3 657.9 h15.4" stroke="#8c564b" stroke-width="1.7" fill="none"/>
<text x="1169.6" y="662" style="font-size:11.3px">$1M to $10M</text>
</svg></body></html>
